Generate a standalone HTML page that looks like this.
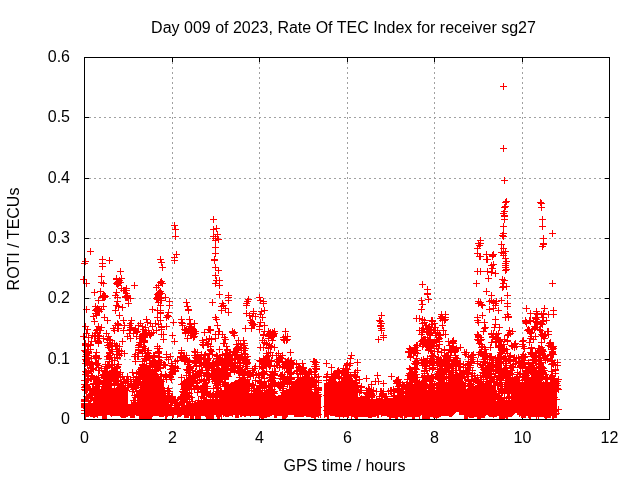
<!DOCTYPE html>
<html><head><meta charset="utf-8"><title>ROTI sg27</title>
<style>html,body{margin:0;padding:0;background:#fff}svg{display:block}text{font-family:"Liberation Sans",sans-serif;font-size:16px;fill:#000}</style>
</head><body>
<svg width="640" height="480" viewBox="0 0 640 480">
<rect width="640" height="480" fill="#fff"/>
<g stroke="#a0a0a0" stroke-width="1" shape-rendering="crispEdges">
<line x1="172.5" y1="62" x2="172.5" y2="415" stroke-dasharray="2 3"/>
<line x1="259.5" y1="62" x2="259.5" y2="415" stroke-dasharray="2 3"/>
<line x1="347.5" y1="62" x2="347.5" y2="415" stroke-dasharray="2 3"/>
<line x1="434.5" y1="62" x2="434.5" y2="415" stroke-dasharray="2 3"/>
<line x1="522.5" y1="62" x2="522.5" y2="415" stroke-dasharray="2 3"/>
<line x1="89" y1="359.5" x2="605" y2="359.5" stroke-dasharray="2 3"/>
<line x1="89" y1="298.5" x2="605" y2="298.5" stroke-dasharray="2 3"/>
<line x1="89" y1="238.5" x2="605" y2="238.5" stroke-dasharray="2 3"/>
<line x1="89" y1="178.5" x2="605" y2="178.5" stroke-dasharray="2 3"/>
<line x1="89" y1="117.5" x2="605" y2="117.5" stroke-dasharray="2 3"/>
</g>
<path d="M84.5 57v5M84.5 420v-5M172.5 57v5M172.5 420v-5M259.5 57v5M259.5 420v-5M347.5 57v5M347.5 420v-5M434.5 57v5M434.5 420v-5M522.5 57v5M522.5 420v-5M609.5 57v5M609.5 420v-5M84 419.5h5M610 419.5h-5M84 359.5h5M610 359.5h-5M84 298.5h5M610 298.5h-5M84 238.5h5M610 238.5h-5M84 178.5h5M610 178.5h-5M84 117.5h5M610 117.5h-5M84 57.5h5M610 57.5h-5" stroke="#000" stroke-width="1" fill="none" shape-rendering="crispEdges"/>
<path d="M84 405V419h1V405zM85 405V419h1V405zM86 404V417h1V404zM87 404V417h1V404zM88 404V417h1V404zM89 404V416h1V404zM90 404V417h1V404zM91 403V417h1V403zM92 403V417h1V403zM93 398V418h1V398zM94 394V418h1V394zM95 389V417h1V389zM96 389V417h1V389zM97 389V418h1V389zM98 389V416h1V389zM99 389V416h1V389zM100 389V416h1V389zM101 389V416h1V389zM102 389V419h1V389zM103 389V419h1V389zM104 389V419h1V389zM105 389V419h1V389zM106 389V419h1V389zM107 389V415h1V389zM108 389V415h1V389zM109 389V415h1V389zM110 389V416h1V389zM111 388V417h1V388zM112 388V416h1V388zM113 388V416h1V388zM114 388V416h1V388zM115 388V416h1V388zM116 388V416h1V388zM117 388V416h1V388zM118 388V416h1V388zM119 388V416h1V388zM120 388V417h1V388zM121 388V418h1V388zM122 388V418h1V388zM123 388V418h1V388zM124 388V418h1V388zM125 388V418h1V388zM126 388V417h1V388zM127 388V417h1V388zM128 405V416h1V405zM129 405V416h1V405zM130 405V418h1V405zM131 405V418h1V405zM132 405V418h1V405zM133 405V418h1V405zM134 405V418h1V405zM135 405V415h1V405zM136 405V416h1V405zM137 399V416h1V399zM138 393V416h1V393zM139 389V419h1V389zM140 386V419h1V386zM141 382V419h1V382zM142 380V419h1V380zM143 379V419h1V379zM144 377V419h1V377zM145 376V419h1V376zM146 374V419h1V374zM147 373V419h1V373zM148 373V419h1V373zM149 372V419h1V372zM150 371V419h1V371zM151 371V419h1V371zM152 370V417h1V370zM153 371V416h1V371zM154 371V416h1V371zM155 372V416h1V372zM156 373V416h1V373zM157 373V416h1V373zM158 374V416h1V374zM159 376V417h1V376zM160 377V417h1V377zM161 379V417h1V379zM162 380V417h1V380zM163 382V417h1V382zM164 387V416h1V387zM165 392V419h1V392zM166 396V419h1V396zM167 399V417h1V399zM168 403V416h1V403zM169 404V416h1V404zM170 405V416h1V405zM171 406V416h1V406zM172 407V418h1V407zM173 408V418h1V408zM174 409V415h1V409zM175 410V415h1V410zM176 411V415h1V411zM177 413V415h1V413zM178 414V415h1V414zM179 416V416h1V416zM180 417V416h1V417zM181 406V416h1V406zM182 406V415h1V406zM183 406V415h1V406zM184 405V418h1V405zM185 405V418h1V405zM186 405V418h1V405zM187 405V418h1V405zM188 404V418h1V404zM189 404V416h1V404zM190 404V419h1V404zM191 404V419h1V404zM192 403V419h1V403zM193 403V419h1V403zM194 402V416h1V402zM195 402V419h1V402zM196 402V419h1V402zM197 401V419h1V401zM198 401V419h1V401zM199 400V419h1V400zM200 400V419h1V400zM201 400V416h1V400zM202 400V416h1V400zM203 400V416h1V400zM204 399V416h1V399zM205 399V417h1V399zM206 399V419h1V399zM207 399V419h1V399zM208 399V419h1V399zM209 399V419h1V399zM210 399V419h1V399zM211 399V419h1V399zM212 399V419h1V399zM213 399V419h1V399zM214 399V415h1V399zM215 399V415h1V399zM216 399V417h1V399zM217 399V419h1V399zM218 399V419h1V399zM219 397V419h1V397zM220 394V417h1V394zM221 392V419h1V392zM222 391V415h1V391zM223 390V417h1V390zM224 389V416h1V389zM225 388V417h1V388zM226 387V417h1V387zM227 386V417h1V386zM228 385V417h1V385zM229 384V416h1V384zM230 383V416h1V383zM231 382V416h1V382zM232 382V417h1V382zM233 382V415h1V382zM234 381V415h1V381zM235 380V418h1V380zM236 380V418h1V380zM237 380V418h1V380zM238 379V418h1V379zM239 378V415h1V378zM240 378V417h1V378zM241 383V417h1V383zM242 386V416h1V386zM243 388V416h1V388zM244 390V417h1V390zM245 393V417h1V393zM246 393V416h1V393zM247 393V416h1V393zM248 393V416h1V393zM249 393V416h1V393zM250 393V417h1V393zM251 393V416h1V393zM252 393V416h1V393zM253 393V416h1V393zM254 393V416h1V393zM255 393V416h1V393zM256 393V416h1V393zM257 393V416h1V393zM258 393V416h1V393zM259 393V418h1V393zM260 393V418h1V393zM261 393V419h1V393zM262 393V419h1V393zM263 393V419h1V393zM264 393V418h1V393zM265 393V418h1V393zM266 396V418h1V396zM267 396V417h1V396zM268 396V417h1V396zM269 396V417h1V396zM270 396V416h1V396zM271 396V416h1V396zM272 396V415h1V396zM273 396V415h1V396zM274 396V418h1V396zM275 396V418h1V396zM276 396V418h1V396zM277 396V416h1V396zM278 396V416h1V396zM279 396V416h1V396zM280 396V416h1V396zM281 396V416h1V396zM282 396V419h1V396zM283 396V419h1V396zM284 396V419h1V396zM285 396V419h1V396zM286 396V418h1V396zM287 396V417h1V396zM288 396V415h1V396zM289 396V415h1V396zM290 391V415h1V391zM291 383V415h1V383zM292 382V415h1V382zM293 381V415h1V381zM294 381V417h1V381zM295 380V417h1V380zM296 379V417h1V379zM297 378V417h1V378zM298 378V417h1V378zM299 377V417h1V377zM300 377V417h1V377zM301 377V417h1V377zM302 376V417h1V376zM303 376V417h1V376zM304 376V416h1V376zM305 377V416h1V377zM306 377V417h1V377zM307 378V417h1V378zM308 378V417h1V378zM309 379V417h1V379zM310 379V417h1V379zM311 391V418h1V391zM312 391V418h1V391zM313 392V418h1V392zM314 392V419h1V392zM315 392V419h1V392zM316 393V417h1V393zM317 393V417h1V393zM318 393V416h1V393zM319 394V416h1V394zM320 394V418h1V394zM324 383V418h1V383zM325 383V417h1V383zM326 383V417h1V383zM327 383V419h1V383zM328 383V419h1V383zM329 383V415h1V383zM330 383V416h1V383zM331 383V416h1V383zM332 383V416h1V383zM333 382V416h1V382zM334 382V416h1V382zM335 382V417h1V382zM336 382V417h1V382zM337 382V417h1V382zM338 382V417h1V382zM339 382V419h1V382zM340 382V417h1V382zM341 380V417h1V380zM342 379V417h1V379zM343 379V418h1V379zM344 379V417h1V379zM345 378V417h1V378zM346 377V417h1V377zM347 377V418h1V377zM348 376V418h1V376zM349 374V416h1V374zM350 373V416h1V373zM351 376V419h1V376zM352 378V417h1V378zM353 381V417h1V381zM354 382V418h1V382zM355 383V419h1V383zM356 385V419h1V385zM357 386V419h1V386zM358 399V417h1V399zM359 399V417h1V399zM360 399V417h1V399zM361 399V417h1V399zM362 399V417h1V399zM363 399V417h1V399zM364 399V417h1V399zM365 399V417h1V399zM366 399V417h1V399zM367 399V417h1V399zM368 399V418h1V399zM369 399V418h1V399zM370 399V418h1V399zM371 399V418h1V399zM372 399V417h1V399zM373 399V417h1V399zM374 399V417h1V399zM375 399V417h1V399zM376 399V416h1V399zM377 399V418h1V399zM378 399V418h1V399zM379 399V415h1V399zM380 399V415h1V399zM381 399V417h1V399zM382 399V416h1V399zM383 399V416h1V399zM384 399V416h1V399zM385 399V416h1V399zM386 398V416h1V398zM387 398V417h1V398zM388 398V417h1V398zM389 398V419h1V398zM390 398V419h1V398zM391 398V418h1V398zM392 398V418h1V398zM393 397V418h1V397zM394 397V418h1V397zM395 397V419h1V397zM396 397V419h1V397zM397 397V419h1V397zM398 397V417h1V397zM399 397V417h1V397zM400 396V418h1V396zM401 395V418h1V395zM402 395V419h1V395zM403 395V416h1V395zM404 395V419h1V395zM405 395V418h1V395zM406 395V418h1V395zM407 395V417h1V395zM408 395V417h1V395zM409 385V417h1V385zM410 385V417h1V385zM411 385V417h1V385zM412 385V419h1V385zM413 385V419h1V385zM414 385V419h1V385zM415 385V417h1V385zM416 390V417h1V390zM417 390V417h1V390zM418 390V417h1V390zM419 390V419h1V390zM420 390V416h1V390zM421 390V415h1V390zM422 390V419h1V390zM423 390V419h1V390zM424 390V419h1V390zM425 390V419h1V390zM426 390V419h1V390zM427 390V419h1V390zM428 390V419h1V390zM429 390V419h1V390zM430 390V417h1V390zM431 390V417h1V390zM432 390V417h1V390zM433 390V418h1V390zM434 390V418h1V390zM435 390V418h1V390zM436 382V419h1V382zM437 382V418h1V382zM438 382V418h1V382zM439 382V417h1V382zM440 382V417h1V382zM441 382V416h1V382zM442 382V416h1V382zM443 382V416h1V382zM444 382V416h1V382zM445 382V416h1V382zM446 382V416h1V382zM447 382V416h1V382zM448 382V416h1V382zM449 382V417h1V382zM450 382V417h1V382zM451 382V417h1V382zM452 382V416h1V382zM453 382V415h1V382zM454 382V414h1V382zM455 382V413h1V382zM456 382V412h1V382zM457 382V412h1V382zM458 382V412h1V382zM459 382V415h1V382zM460 382V415h1V382zM461 382V415h1V382zM462 382V415h1V382zM463 382V415h1V382zM464 382V419h1V382zM465 382V419h1V382zM466 390V419h1V390zM467 390V419h1V390zM468 390V417h1V390zM469 390V418h1V390zM470 390V418h1V390zM471 390V418h1V390zM472 390V418h1V390zM473 390V418h1V390zM474 390V417h1V390zM475 390V417h1V390zM476 385V417h1V385zM477 385V419h1V385zM478 385V419h1V385zM479 385V419h1V385zM480 385V419h1V385zM481 385V418h1V385zM482 385V418h1V385zM483 385V418h1V385zM484 385V418h1V385zM485 385V416h1V385zM486 385V415h1V385zM487 385V415h1V385zM488 385V416h1V385zM489 385V417h1V385zM490 385V417h1V385zM491 385V417h1V385zM492 385V417h1V385zM493 385V418h1V385zM494 385V417h1V385zM495 385V417h1V385zM496 402V417h1V402zM497 402V416h1V402zM498 402V416h1V402zM499 402V419h1V402zM500 402V419h1V402zM501 402V419h1V402zM502 402V419h1V402zM503 402V419h1V402zM504 402V419h1V402zM505 402V418h1V402zM506 402V419h1V402zM507 402V419h1V402zM508 402V417h1V402zM509 402V417h1V402zM510 402V417h1V402zM511 382V417h1V382zM512 382V416h1V382zM513 382V415h1V382zM514 382V414h1V382zM515 382V413h1V382zM516 382V413h1V382zM517 382V415h1V382zM518 382V415h1V382zM519 382V417h1V382zM520 382V416h1V382zM521 382V418h1V382zM522 382V418h1V382zM523 382V418h1V382zM524 382V418h1V382zM525 382V418h1V382zM526 382V416h1V382zM527 382V416h1V382zM528 382V418h1V382zM529 382V419h1V382zM530 382V419h1V382zM531 382V417h1V382zM532 382V417h1V382zM533 382V417h1V382zM534 382V417h1V382zM535 382V417h1V382zM536 382V419h1V382zM537 382V417h1V382zM538 382V419h1V382zM539 382V417h1V382zM540 382V417h1V382zM541 382V417h1V382zM542 382V417h1V382zM543 382V417h1V382zM544 382V418h1V382zM545 382V419h1V382zM546 382V419h1V382zM547 382V418h1V382zM548 382V418h1V382zM549 382V418h1V382zM550 382V418h1V382zM551 382V415h1V382zM552 382V415h1V382zM553 382V416h1V382zM554 382V418h1V382zM555 382V418h1V382zM556 382V418h1V382z" fill="#f00" shape-rendering="crispEdges"/>
<path d="M80 279.5h7M83.5 276v7M80 336.5h7M83.5 333v7M81 263.5h7M84.5 260v7M81 350.5h7M84.5 347v7M81 380.5h7M84.5 377v7M81 384.5h7M84.5 381v7M81 387.5h7M84.5 384v7M81 389.5h7M84.5 386v7M81 399.5h7M84.5 396v7M81 400.5h7M84.5 397v7M81 401.5h7M84.5 398v7M81 403.5h7M84.5 400v7M81 404.5h7M84.5 401v7M81 405.5h7M84.5 402v7M81 406.5h7M84.5 403v7M81 407.5h7M84.5 404v7M81 410.5h7M84.5 407v7M81 413.5h7M84.5 410v7M82 261.5h7M85.5 258v7M82 326.5h7M85.5 323v7M82 343.5h7M85.5 340v7M82 344.5h7M85.5 341v7M82 345.5h7M85.5 342v7M82 350.5h7M85.5 347v7M82 351.5h7M85.5 348v7M82 356.5h7M85.5 353v7M82 359.5h7M85.5 356v7M82 363.5h7M85.5 360v7M82 371.5h7M85.5 368v7M82 374.5h7M85.5 371v7M82 384.5h7M85.5 381v7M82 386.5h7M85.5 383v7M82 390.5h7M85.5 387v7M83 283.5h7M86.5 280v7M83 309.5h7M86.5 306v7M83 333.5h7M86.5 330v7M83 352.5h7M86.5 349v7M83 354.5h7M86.5 351v7M83 360.5h7M86.5 357v7M83 361.5h7M86.5 358v7M83 372.5h7M86.5 369v7M83 384.5h7M86.5 381v7M83 385.5h7M86.5 382v7M83 387.5h7M86.5 384v7M83 389.5h7M86.5 386v7M83 390.5h7M86.5 387v7M83 396.5h7M86.5 393v7M83 408.5h7M86.5 405v7M84 329.5h7M87.5 326v7M84 346.5h7M87.5 343v7M84 353.5h7M87.5 350v7M84 355.5h7M87.5 352v7M84 362.5h7M87.5 359v7M84 364.5h7M87.5 361v7M84 365.5h7M87.5 362v7M84 376.5h7M87.5 373v7M84 379.5h7M87.5 376v7M84 380.5h7M87.5 377v7M84 386.5h7M87.5 383v7M84 387.5h7M87.5 384v7M84 388.5h7M87.5 385v7M84 389.5h7M87.5 386v7M85 337.5h7M88.5 334v7M85 345.5h7M88.5 342v7M85 351.5h7M88.5 348v7M85 352.5h7M88.5 349v7M85 353.5h7M88.5 350v7M85 357.5h7M88.5 354v7M85 362.5h7M88.5 359v7M85 370.5h7M88.5 367v7M85 371.5h7M88.5 368v7M85 373.5h7M88.5 370v7M85 378.5h7M88.5 375v7M85 379.5h7M88.5 376v7M85 396.5h7M88.5 393v7M85 397.5h7M88.5 394v7M85 398.5h7M88.5 395v7M85 401.5h7M88.5 398v7M86 361.5h7M89.5 358v7M86 363.5h7M89.5 360v7M86 364.5h7M89.5 361v7M86 389.5h7M89.5 386v7M86 394.5h7M89.5 391v7M86 395.5h7M89.5 392v7M86 403.5h7M89.5 400v7M87 251.5h7M90.5 248v7M87 344.5h7M90.5 341v7M87 345.5h7M90.5 342v7M87 349.5h7M90.5 346v7M87 364.5h7M90.5 361v7M87 370.5h7M90.5 367v7M87 378.5h7M90.5 375v7M87 389.5h7M90.5 386v7M87 400.5h7M90.5 397v7M88 341.5h7M91.5 338v7M88 358.5h7M91.5 355v7M88 363.5h7M91.5 360v7M88 364.5h7M91.5 361v7M88 368.5h7M91.5 365v7M88 375.5h7M91.5 372v7M88 378.5h7M91.5 375v7M88 393.5h7M91.5 390v7M88 395.5h7M91.5 392v7M88 397.5h7M91.5 394v7M89 335.5h7M92.5 332v7M89 368.5h7M92.5 365v7M89 376.5h7M92.5 373v7M89 388.5h7M92.5 385v7M89 393.5h7M92.5 390v7M89 394.5h7M92.5 391v7M89 397.5h7M92.5 394v7M90 316.5h7M93.5 313v7M90 368.5h7M93.5 365v7M90 369.5h7M93.5 366v7M90 378.5h7M93.5 375v7M90 383.5h7M93.5 380v7M90 384.5h7M93.5 381v7M90 390.5h7M93.5 387v7M90 391.5h7M93.5 388v7M90 392.5h7M93.5 389v7M91 292.5h7M94.5 289v7M91 321.5h7M94.5 318v7M91 336.5h7M94.5 333v7M91 379.5h7M94.5 376v7M91 392.5h7M94.5 389v7M91 393.5h7M94.5 390v7M92 306.5h7M95.5 303v7M92 310.5h7M95.5 307v7M92 313.5h7M95.5 310v7M92 333.5h7M95.5 330v7M92 336.5h7M95.5 333v7M92 356.5h7M95.5 353v7M92 362.5h7M95.5 359v7M92 383.5h7M95.5 380v7M92 389.5h7M95.5 386v7M93 309.5h7M96.5 306v7M93 310.5h7M96.5 307v7M93 315.5h7M96.5 312v7M93 330.5h7M96.5 327v7M93 352.5h7M96.5 349v7M93 355.5h7M96.5 352v7M93 356.5h7M96.5 353v7M93 357.5h7M96.5 354v7M93 364.5h7M96.5 361v7M93 378.5h7M96.5 375v7M93 379.5h7M96.5 376v7M93 387.5h7M96.5 384v7M94 308.5h7M97.5 305v7M94 310.5h7M97.5 307v7M94 311.5h7M97.5 308v7M94 329.5h7M97.5 326v7M94 332.5h7M97.5 329v7M94 338.5h7M97.5 335v7M94 340.5h7M97.5 337v7M94 363.5h7M97.5 360v7M94 379.5h7M97.5 376v7M94 382.5h7M97.5 379v7M94 386.5h7M97.5 383v7M95 300.5h7M98.5 297v7M95 310.5h7M98.5 307v7M95 311.5h7M98.5 308v7M95 326.5h7M98.5 323v7M95 335.5h7M98.5 332v7M95 341.5h7M98.5 338v7M95 342.5h7M98.5 339v7M95 343.5h7M98.5 340v7M95 358.5h7M98.5 355v7M95 365.5h7M98.5 362v7M95 367.5h7M98.5 364v7M95 370.5h7M98.5 367v7M95 377.5h7M98.5 374v7M95 381.5h7M98.5 378v7M95 386.5h7M98.5 383v7M96 309.5h7M99.5 306v7M96 311.5h7M99.5 308v7M96 330.5h7M99.5 327v7M96 336.5h7M99.5 333v7M96 370.5h7M99.5 367v7M96 382.5h7M99.5 379v7M96 389.5h7M99.5 386v7M97 291.5h7M100.5 288v7M97 330.5h7M100.5 327v7M98 276.5h7M101.5 273v7M98 282.5h7M101.5 279v7M98 309.5h7M101.5 306v7M98 327.5h7M101.5 324v7M98 368.5h7M101.5 365v7M99 259.5h7M102.5 256v7M99 263.5h7M102.5 260v7M99 266.5h7M102.5 263v7M99 296.5h7M102.5 293v7M99 297.5h7M102.5 294v7M99 375.5h7M102.5 372v7M99 384.5h7M102.5 381v7M100 283.5h7M103.5 280v7M100 295.5h7M103.5 292v7M100 297.5h7M103.5 294v7M100 306.5h7M103.5 303v7M100 338.5h7M103.5 335v7M100 374.5h7M103.5 371v7M100 380.5h7M103.5 377v7M100 382.5h7M103.5 379v7M100 383.5h7M103.5 380v7M100 384.5h7M103.5 381v7M101 295.5h7M104.5 292v7M101 297.5h7M104.5 294v7M101 317.5h7M104.5 314v7M101 370.5h7M104.5 367v7M101 371.5h7M104.5 368v7M101 376.5h7M104.5 373v7M101 378.5h7M104.5 375v7M101 383.5h7M104.5 380v7M101 387.5h7M104.5 384v7M101 388.5h7M104.5 385v7M102 296.5h7M105.5 293v7M102 364.5h7M105.5 361v7M102 366.5h7M105.5 363v7M102 368.5h7M105.5 365v7M102 373.5h7M105.5 370v7M102 374.5h7M105.5 371v7M102 375.5h7M105.5 372v7M102 380.5h7M105.5 377v7M102 385.5h7M105.5 382v7M102 386.5h7M105.5 383v7M102 388.5h7M105.5 385v7M102 392.5h7M105.5 389v7M103 333.5h7M106.5 330v7M103 368.5h7M106.5 365v7M103 374.5h7M106.5 371v7M103 377.5h7M106.5 374v7M103 381.5h7M106.5 378v7M103 384.5h7M106.5 381v7M103 385.5h7M106.5 382v7M103 386.5h7M106.5 383v7M104 320.5h7M107.5 317v7M104 339.5h7M107.5 336v7M104 342.5h7M107.5 339v7M104 345.5h7M107.5 342v7M104 356.5h7M107.5 353v7M104 364.5h7M107.5 361v7M104 366.5h7M107.5 363v7M104 367.5h7M107.5 364v7M104 371.5h7M107.5 368v7M104 372.5h7M107.5 369v7M104 377.5h7M107.5 374v7M104 378.5h7M107.5 375v7M104 380.5h7M107.5 377v7M104 382.5h7M107.5 379v7M104 383.5h7M107.5 380v7M104 388.5h7M107.5 385v7M104 389.5h7M107.5 386v7M104 394.5h7M107.5 391v7M105 336.5h7M108.5 333v7M105 347.5h7M108.5 344v7M105 356.5h7M108.5 353v7M105 365.5h7M108.5 362v7M105 375.5h7M108.5 372v7M105 378.5h7M108.5 375v7M105 381.5h7M108.5 378v7M105 383.5h7M108.5 380v7M105 384.5h7M108.5 381v7M105 385.5h7M108.5 382v7M105 386.5h7M108.5 383v7M105 387.5h7M108.5 384v7M105 390.5h7M108.5 387v7M106 260.5h7M109.5 257v7M106 339.5h7M109.5 336v7M106 340.5h7M109.5 337v7M106 342.5h7M109.5 339v7M106 344.5h7M109.5 341v7M106 345.5h7M109.5 342v7M106 347.5h7M109.5 344v7M106 352.5h7M109.5 349v7M106 353.5h7M109.5 350v7M106 355.5h7M109.5 352v7M106 357.5h7M109.5 354v7M106 358.5h7M109.5 355v7M106 359.5h7M109.5 356v7M106 361.5h7M109.5 358v7M106 364.5h7M109.5 361v7M106 375.5h7M109.5 372v7M106 377.5h7M109.5 374v7M106 378.5h7M109.5 375v7M106 379.5h7M109.5 376v7M106 388.5h7M109.5 385v7M106 389.5h7M109.5 386v7M107 340.5h7M110.5 337v7M107 343.5h7M110.5 340v7M107 353.5h7M110.5 350v7M107 377.5h7M110.5 374v7M107 384.5h7M110.5 381v7M107 385.5h7M110.5 382v7M108 345.5h7M111.5 342v7M108 346.5h7M111.5 343v7M108 349.5h7M111.5 346v7M108 364.5h7M111.5 361v7M108 365.5h7M111.5 362v7M108 371.5h7M111.5 368v7M108 374.5h7M111.5 371v7M108 383.5h7M111.5 380v7M108 393.5h7M111.5 390v7M109 343.5h7M112.5 340v7M109 351.5h7M112.5 348v7M109 364.5h7M112.5 361v7M109 367.5h7M112.5 364v7M109 370.5h7M112.5 367v7M110 328.5h7M113.5 325v7M110 372.5h7M113.5 369v7M110 373.5h7M113.5 370v7M110 375.5h7M113.5 372v7M110 377.5h7M113.5 374v7M110 379.5h7M113.5 376v7M111 330.5h7M114.5 327v7M111 343.5h7M114.5 340v7M111 357.5h7M114.5 354v7M111 360.5h7M114.5 357v7M111 369.5h7M114.5 366v7M111 373.5h7M114.5 370v7M111 376.5h7M114.5 373v7M111 377.5h7M114.5 374v7M111 378.5h7M114.5 375v7M111 380.5h7M114.5 377v7M111 385.5h7M114.5 382v7M111 388.5h7M114.5 385v7M111 389.5h7M114.5 386v7M112 295.5h7M115.5 292v7M112 310.5h7M115.5 307v7M112 325.5h7M115.5 322v7M112 346.5h7M115.5 343v7M112 371.5h7M115.5 368v7M112 373.5h7M115.5 370v7M112 374.5h7M115.5 371v7M112 376.5h7M115.5 373v7M112 378.5h7M115.5 375v7M112 381.5h7M115.5 378v7M113 278.5h7M116.5 275v7M113 279.5h7M116.5 276v7M113 283.5h7M116.5 280v7M113 292.5h7M116.5 289v7M113 305.5h7M116.5 302v7M113 345.5h7M116.5 342v7M113 346.5h7M116.5 343v7M113 354.5h7M116.5 351v7M113 368.5h7M116.5 365v7M113 371.5h7M116.5 368v7M113 373.5h7M116.5 370v7M113 380.5h7M116.5 377v7M113 381.5h7M116.5 378v7M114 282.5h7M117.5 279v7M114 284.5h7M117.5 281v7M114 297.5h7M117.5 294v7M114 301.5h7M117.5 298v7M114 323.5h7M117.5 320v7M114 328.5h7M117.5 325v7M114 346.5h7M117.5 343v7M114 354.5h7M117.5 351v7M114 357.5h7M117.5 354v7M114 358.5h7M117.5 355v7M114 366.5h7M117.5 363v7M114 367.5h7M117.5 364v7M114 373.5h7M117.5 370v7M114 374.5h7M117.5 371v7M114 375.5h7M117.5 372v7M114 380.5h7M117.5 377v7M114 384.5h7M117.5 381v7M114 385.5h7M117.5 382v7M115 281.5h7M118.5 278v7M115 283.5h7M118.5 280v7M115 306.5h7M118.5 303v7M115 324.5h7M118.5 321v7M115 325.5h7M118.5 322v7M115 328.5h7M118.5 325v7M115 351.5h7M118.5 348v7M115 364.5h7M118.5 361v7M115 376.5h7M118.5 373v7M115 377.5h7M118.5 374v7M115 381.5h7M118.5 378v7M116 280.5h7M119.5 277v7M116 282.5h7M119.5 279v7M116 315.5h7M119.5 312v7M116 346.5h7M119.5 343v7M116 350.5h7M119.5 347v7M116 353.5h7M119.5 350v7M116 355.5h7M119.5 352v7M116 374.5h7M119.5 371v7M116 387.5h7M119.5 384v7M117 271.5h7M120.5 268v7M117 282.5h7M120.5 279v7M117 372.5h7M120.5 369v7M117 381.5h7M120.5 378v7M117 384.5h7M120.5 381v7M117 385.5h7M120.5 382v7M117 386.5h7M120.5 383v7M117 387.5h7M120.5 384v7M118 278.5h7M121.5 275v7M118 288.5h7M121.5 285v7M118 351.5h7M121.5 348v7M118 353.5h7M121.5 350v7M118 383.5h7M121.5 380v7M119 307.5h7M122.5 304v7M119 341.5h7M122.5 338v7M119 376.5h7M122.5 373v7M119 388.5h7M122.5 385v7M120 290.5h7M123.5 287v7M120 320.5h7M123.5 317v7M120 330.5h7M123.5 327v7M120 379.5h7M123.5 376v7M120 388.5h7M123.5 385v7M120 393.5h7M123.5 390v7M121 290.5h7M124.5 287v7M121 325.5h7M124.5 322v7M121 353.5h7M124.5 350v7M121 379.5h7M124.5 376v7M121 388.5h7M124.5 385v7M121 390.5h7M124.5 387v7M122 290.5h7M125.5 287v7M122 296.5h7M125.5 293v7M122 297.5h7M125.5 294v7M122 382.5h7M125.5 379v7M122 387.5h7M125.5 384v7M122 389.5h7M125.5 386v7M123 288.5h7M126.5 285v7M123 290.5h7M126.5 287v7M123 293.5h7M126.5 290v7M123 296.5h7M126.5 293v7M123 297.5h7M126.5 294v7M123 379.5h7M126.5 376v7M123 390.5h7M126.5 387v7M124 295.5h7M127.5 292v7M124 297.5h7M127.5 294v7M124 336.5h7M127.5 333v7M124 376.5h7M127.5 373v7M124 381.5h7M127.5 378v7M124 383.5h7M127.5 380v7M125 298.5h7M128.5 295v7M125 303.5h7M128.5 300v7M125 379.5h7M128.5 376v7M125 385.5h7M128.5 382v7M126 325.5h7M129.5 322v7M126 330.5h7M129.5 327v7M126 333.5h7M129.5 330v7M127 298.5h7M130.5 295v7M127 323.5h7M130.5 320v7M127 327.5h7M130.5 324v7M127 329.5h7M130.5 326v7M127 338.5h7M130.5 335v7M127 379.5h7M130.5 376v7M127 384.5h7M130.5 381v7M128 320.5h7M131.5 317v7M128 327.5h7M131.5 324v7M128 383.5h7M131.5 380v7M128 386.5h7M131.5 383v7M128 404.5h7M131.5 401v7M128 408.5h7M131.5 405v7M129 372.5h7M132.5 369v7M129 386.5h7M132.5 383v7M129 387.5h7M132.5 384v7M129 391.5h7M132.5 388v7M129 405.5h7M132.5 402v7M129 406.5h7M132.5 403v7M130 330.5h7M133.5 327v7M130 333.5h7M133.5 330v7M130 377.5h7M133.5 374v7M130 384.5h7M133.5 381v7M130 385.5h7M133.5 382v7M130 387.5h7M133.5 384v7M130 389.5h7M133.5 386v7M130 400.5h7M133.5 397v7M130 405.5h7M133.5 402v7M130 407.5h7M133.5 404v7M130 411.5h7M133.5 408v7M131 285.5h7M134.5 282v7M131 356.5h7M134.5 353v7M131 385.5h7M134.5 382v7M131 395.5h7M134.5 392v7M131 400.5h7M134.5 397v7M131 403.5h7M134.5 400v7M131 404.5h7M134.5 401v7M132 328.5h7M135.5 325v7M132 329.5h7M135.5 326v7M132 330.5h7M135.5 327v7M132 354.5h7M135.5 351v7M132 356.5h7M135.5 353v7M132 361.5h7M135.5 358v7M132 379.5h7M135.5 376v7M132 381.5h7M135.5 378v7M132 388.5h7M135.5 385v7M132 397.5h7M135.5 394v7M132 400.5h7M135.5 397v7M132 402.5h7M135.5 399v7M132 407.5h7M135.5 404v7M132 408.5h7M135.5 405v7M133 332.5h7M136.5 329v7M133 336.5h7M136.5 333v7M133 373.5h7M136.5 370v7M133 376.5h7M136.5 373v7M133 383.5h7M136.5 380v7M133 384.5h7M136.5 381v7M133 385.5h7M136.5 382v7M133 387.5h7M136.5 384v7M133 391.5h7M136.5 388v7M134 331.5h7M137.5 328v7M134 356.5h7M137.5 353v7M134 380.5h7M137.5 377v7M134 385.5h7M137.5 382v7M134 396.5h7M137.5 393v7M135 325.5h7M138.5 322v7M135 345.5h7M138.5 342v7M135 347.5h7M138.5 344v7M135 349.5h7M138.5 346v7M135 350.5h7M138.5 347v7M135 352.5h7M138.5 349v7M135 356.5h7M138.5 353v7M135 372.5h7M138.5 369v7M135 373.5h7M138.5 370v7M135 377.5h7M138.5 374v7M135 379.5h7M138.5 376v7M135 383.5h7M138.5 380v7M135 384.5h7M138.5 381v7M136 342.5h7M139.5 339v7M136 344.5h7M139.5 341v7M136 374.5h7M139.5 371v7M136 379.5h7M139.5 376v7M136 381.5h7M139.5 378v7M136 392.5h7M139.5 389v7M137 323.5h7M140.5 320v7M137 338.5h7M140.5 335v7M137 342.5h7M140.5 339v7M137 369.5h7M140.5 366v7M137 371.5h7M140.5 368v7M137 373.5h7M140.5 370v7M137 379.5h7M140.5 376v7M137 381.5h7M140.5 378v7M137 390.5h7M140.5 387v7M138 344.5h7M141.5 341v7M138 367.5h7M141.5 364v7M138 368.5h7M141.5 365v7M138 369.5h7M141.5 366v7M138 370.5h7M141.5 367v7M138 372.5h7M141.5 369v7M138 374.5h7M141.5 371v7M138 387.5h7M141.5 384v7M139 326.5h7M142.5 323v7M139 334.5h7M142.5 331v7M139 335.5h7M142.5 332v7M139 337.5h7M142.5 334v7M139 339.5h7M142.5 336v7M139 350.5h7M142.5 347v7M139 351.5h7M142.5 348v7M139 353.5h7M142.5 350v7M139 361.5h7M142.5 358v7M139 364.5h7M142.5 361v7M139 365.5h7M142.5 362v7M139 372.5h7M142.5 369v7M139 373.5h7M142.5 370v7M139 374.5h7M142.5 371v7M139 375.5h7M142.5 372v7M139 376.5h7M142.5 373v7M139 377.5h7M142.5 374v7M139 378.5h7M142.5 375v7M140 329.5h7M143.5 326v7M140 333.5h7M143.5 330v7M140 336.5h7M143.5 333v7M140 346.5h7M143.5 343v7M140 366.5h7M143.5 363v7M140 370.5h7M143.5 367v7M140 371.5h7M143.5 368v7M140 372.5h7M143.5 369v7M140 374.5h7M143.5 371v7M141 333.5h7M144.5 330v7M141 335.5h7M144.5 332v7M141 336.5h7M144.5 333v7M141 337.5h7M144.5 334v7M141 340.5h7M144.5 337v7M141 341.5h7M144.5 338v7M141 342.5h7M144.5 339v7M141 350.5h7M144.5 347v7M141 358.5h7M144.5 355v7M141 365.5h7M144.5 362v7M141 366.5h7M144.5 363v7M141 368.5h7M144.5 365v7M141 369.5h7M144.5 366v7M141 371.5h7M144.5 368v7M142 327.5h7M145.5 324v7M142 330.5h7M145.5 327v7M142 335.5h7M145.5 332v7M142 348.5h7M145.5 345v7M142 353.5h7M145.5 350v7M142 367.5h7M145.5 364v7M142 371.5h7M145.5 368v7M143 319.5h7M146.5 316v7M143 332.5h7M146.5 329v7M143 356.5h7M146.5 353v7M143 359.5h7M146.5 356v7M143 360.5h7M146.5 357v7M143 366.5h7M146.5 363v7M143 368.5h7M146.5 365v7M143 370.5h7M146.5 367v7M143 372.5h7M146.5 369v7M143 374.5h7M146.5 371v7M143 378.5h7M146.5 375v7M144 322.5h7M147.5 319v7M144 352.5h7M147.5 349v7M144 356.5h7M147.5 353v7M144 369.5h7M147.5 366v7M144 373.5h7M147.5 370v7M145 330.5h7M148.5 327v7M145 350.5h7M148.5 347v7M145 353.5h7M148.5 350v7M145 357.5h7M148.5 354v7M145 372.5h7M148.5 369v7M145 378.5h7M148.5 375v7M146 334.5h7M149.5 331v7M146 355.5h7M149.5 352v7M146 357.5h7M149.5 354v7M146 358.5h7M149.5 355v7M146 360.5h7M149.5 357v7M146 363.5h7M149.5 360v7M146 365.5h7M149.5 362v7M146 369.5h7M149.5 366v7M146 372.5h7M149.5 369v7M147 323.5h7M150.5 320v7M147 335.5h7M150.5 332v7M147 365.5h7M150.5 362v7M147 366.5h7M150.5 363v7M147 367.5h7M150.5 364v7M147 369.5h7M150.5 366v7M148 333.5h7M151.5 330v7M149 309.5h7M152.5 306v7M149 326.5h7M152.5 323v7M149 362.5h7M152.5 359v7M149 364.5h7M152.5 361v7M149 367.5h7M152.5 364v7M150 332.5h7M153.5 329v7M150 355.5h7M153.5 352v7M150 356.5h7M153.5 353v7M150 361.5h7M153.5 358v7M150 364.5h7M153.5 361v7M151 355.5h7M154.5 352v7M151 357.5h7M154.5 354v7M151 366.5h7M154.5 363v7M151 369.5h7M154.5 366v7M151 370.5h7M154.5 367v7M152 323.5h7M155.5 320v7M152 362.5h7M155.5 359v7M152 367.5h7M155.5 364v7M152 371.5h7M155.5 368v7M152 377.5h7M155.5 374v7M153 287.5h7M156.5 284v7M153 298.5h7M156.5 295v7M153 330.5h7M156.5 327v7M153 364.5h7M156.5 361v7M153 365.5h7M156.5 362v7M153 374.5h7M156.5 371v7M154 294.5h7M157.5 291v7M154 297.5h7M157.5 294v7M154 299.5h7M157.5 296v7M154 310.5h7M157.5 307v7M154 317.5h7M157.5 314v7M154 346.5h7M157.5 343v7M154 348.5h7M157.5 345v7M154 364.5h7M157.5 361v7M155 285.5h7M158.5 282v7M155 293.5h7M158.5 290v7M155 295.5h7M158.5 292v7M155 296.5h7M158.5 293v7M155 298.5h7M158.5 295v7M155 302.5h7M158.5 299v7M155 324.5h7M158.5 321v7M155 351.5h7M158.5 348v7M155 352.5h7M158.5 349v7M155 353.5h7M158.5 350v7M155 356.5h7M158.5 353v7M155 360.5h7M158.5 357v7M155 363.5h7M158.5 360v7M155 367.5h7M158.5 364v7M156 292.5h7M159.5 289v7M156 294.5h7M159.5 291v7M156 348.5h7M159.5 345v7M156 357.5h7M159.5 354v7M156 360.5h7M159.5 357v7M156 367.5h7M159.5 364v7M157 259.5h7M160.5 256v7M157 282.5h7M160.5 279v7M157 291.5h7M160.5 288v7M157 298.5h7M160.5 295v7M157 305.5h7M160.5 302v7M157 310.5h7M160.5 307v7M157 312.5h7M160.5 309v7M157 313.5h7M160.5 310v7M157 320.5h7M160.5 317v7M157 362.5h7M160.5 359v7M157 368.5h7M160.5 365v7M157 376.5h7M160.5 373v7M158 262.5h7M161.5 259v7M158 281.5h7M161.5 278v7M158 293.5h7M161.5 290v7M158 300.5h7M161.5 297v7M158 326.5h7M161.5 323v7M158 327.5h7M161.5 324v7M158 329.5h7M161.5 326v7M158 334.5h7M161.5 331v7M158 362.5h7M161.5 359v7M158 374.5h7M161.5 371v7M158 381.5h7M161.5 378v7M159 267.5h7M162.5 264v7M159 283.5h7M162.5 280v7M160 334.5h7M163.5 331v7M160 339.5h7M163.5 336v7M160 364.5h7M163.5 361v7M160 379.5h7M163.5 376v7M161 364.5h7M164.5 361v7M162 297.5h7M165.5 294v7M162 365.5h7M165.5 362v7M162 374.5h7M165.5 371v7M162 375.5h7M165.5 372v7M163 317.5h7M166.5 314v7M163 326.5h7M166.5 323v7M163 354.5h7M166.5 351v7M163 357.5h7M166.5 354v7M163 376.5h7M166.5 373v7M163 377.5h7M166.5 374v7M163 379.5h7M166.5 376v7M164 315.5h7M167.5 312v7M164 390.5h7M167.5 387v7M164 396.5h7M167.5 393v7M164 397.5h7M167.5 394v7M165 312.5h7M168.5 309v7M165 316.5h7M168.5 313v7M165 359.5h7M168.5 356v7M165 388.5h7M168.5 385v7M165 391.5h7M168.5 388v7M165 393.5h7M168.5 390v7M165 400.5h7M168.5 397v7M166 301.5h7M169.5 298v7M166 305.5h7M169.5 302v7M166 374.5h7M169.5 371v7M166 375.5h7M169.5 372v7M166 391.5h7M169.5 388v7M166 393.5h7M169.5 390v7M166 395.5h7M169.5 392v7M166 398.5h7M169.5 395v7M167 356.5h7M170.5 353v7M167 369.5h7M170.5 366v7M167 376.5h7M170.5 373v7M167 377.5h7M170.5 374v7M167 402.5h7M170.5 399v7M167 407.5h7M170.5 404v7M167 408.5h7M170.5 405v7M168 363.5h7M171.5 360v7M168 365.5h7M171.5 362v7M168 372.5h7M171.5 369v7M168 374.5h7M171.5 371v7M168 379.5h7M171.5 376v7M168 397.5h7M171.5 394v7M168 399.5h7M171.5 396v7M168 401.5h7M171.5 398v7M168 402.5h7M171.5 399v7M168 410.5h7M171.5 407v7M169 335.5h7M172.5 332v7M169 366.5h7M172.5 363v7M169 368.5h7M172.5 365v7M169 373.5h7M172.5 370v7M169 396.5h7M172.5 393v7M169 398.5h7M172.5 395v7M169 399.5h7M172.5 396v7M169 401.5h7M172.5 398v7M170 322.5h7M173.5 319v7M170 368.5h7M173.5 365v7M170 371.5h7M173.5 368v7M171 225.5h7M174.5 222v7M171 257.5h7M174.5 254v7M171 260.5h7M174.5 257v7M171 341.5h7M174.5 338v7M171 370.5h7M174.5 367v7M171 403.5h7M174.5 400v7M171 407.5h7M174.5 404v7M171 409.5h7M174.5 406v7M171 411.5h7M174.5 408v7M172 229.5h7M175.5 226v7M172 236.5h7M175.5 233v7M172 361.5h7M175.5 358v7M172 366.5h7M175.5 363v7M172 367.5h7M175.5 364v7M172 370.5h7M175.5 367v7M172 371.5h7M175.5 368v7M172 400.5h7M175.5 397v7M172 403.5h7M175.5 400v7M172 405.5h7M175.5 402v7M172 407.5h7M175.5 404v7M173 254.5h7M176.5 251v7M173 402.5h7M176.5 399v7M173 403.5h7M176.5 400v7M173 405.5h7M176.5 402v7M173 408.5h7M176.5 405v7M174 360.5h7M177.5 357v7M174 368.5h7M177.5 365v7M174 402.5h7M177.5 399v7M174 409.5h7M177.5 406v7M174 414.5h7M177.5 411v7M175 407.5h7M178.5 404v7M175 408.5h7M178.5 405v7M175 409.5h7M178.5 406v7M175 413.5h7M178.5 410v7M176 404.5h7M179.5 401v7M176 405.5h7M179.5 402v7M176 410.5h7M179.5 407v7M176 413.5h7M179.5 410v7M177 356.5h7M180.5 353v7M177 397.5h7M180.5 394v7M177 398.5h7M180.5 395v7M177 402.5h7M180.5 399v7M177 412.5h7M180.5 409v7M177 413.5h7M180.5 410v7M178 319.5h7M181.5 316v7M178 322.5h7M181.5 319v7M178 350.5h7M181.5 347v7M178 352.5h7M181.5 349v7M178 353.5h7M181.5 350v7M178 357.5h7M181.5 354v7M178 377.5h7M181.5 374v7M178 384.5h7M181.5 381v7M178 396.5h7M181.5 393v7M178 398.5h7M181.5 395v7M178 399.5h7M181.5 396v7M178 402.5h7M181.5 399v7M179 323.5h7M182.5 320v7M179 325.5h7M182.5 322v7M179 358.5h7M182.5 355v7M179 391.5h7M182.5 388v7M179 398.5h7M182.5 395v7M179 399.5h7M182.5 396v7M179 402.5h7M182.5 399v7M180 357.5h7M183.5 354v7M180 358.5h7M183.5 355v7M180 383.5h7M183.5 380v7M180 384.5h7M183.5 381v7M180 389.5h7M183.5 386v7M180 392.5h7M183.5 389v7M180 394.5h7M183.5 391v7M180 395.5h7M183.5 392v7M180 396.5h7M183.5 393v7M180 399.5h7M183.5 396v7M180 402.5h7M183.5 399v7M181 329.5h7M184.5 326v7M181 357.5h7M184.5 354v7M181 358.5h7M184.5 355v7M181 359.5h7M184.5 356v7M181 361.5h7M184.5 358v7M181 381.5h7M184.5 378v7M181 385.5h7M184.5 382v7M181 386.5h7M184.5 383v7M181 387.5h7M184.5 384v7M181 388.5h7M184.5 385v7M181 389.5h7M184.5 386v7M181 394.5h7M184.5 391v7M181 397.5h7M184.5 394v7M181 400.5h7M184.5 397v7M181 401.5h7M184.5 398v7M182 330.5h7M185.5 327v7M182 332.5h7M185.5 329v7M182 333.5h7M185.5 330v7M182 358.5h7M185.5 355v7M182 359.5h7M185.5 356v7M182 360.5h7M185.5 357v7M182 382.5h7M185.5 379v7M182 383.5h7M185.5 380v7M182 386.5h7M185.5 383v7M182 390.5h7M185.5 387v7M182 393.5h7M185.5 390v7M182 398.5h7M185.5 395v7M183 302.5h7M186.5 299v7M183 330.5h7M186.5 327v7M183 355.5h7M186.5 352v7M183 369.5h7M186.5 366v7M183 375.5h7M186.5 372v7M183 382.5h7M186.5 379v7M183 385.5h7M186.5 382v7M183 387.5h7M186.5 384v7M183 390.5h7M186.5 387v7M183 394.5h7M186.5 391v7M183 395.5h7M186.5 392v7M183 401.5h7M186.5 398v7M183 402.5h7M186.5 399v7M183 405.5h7M186.5 402v7M183 408.5h7M186.5 405v7M184 306.5h7M187.5 303v7M184 338.5h7M187.5 335v7M184 362.5h7M187.5 359v7M184 370.5h7M187.5 367v7M184 380.5h7M187.5 377v7M184 388.5h7M187.5 385v7M184 392.5h7M187.5 389v7M184 401.5h7M187.5 398v7M184 402.5h7M187.5 399v7M185 309.5h7M188.5 306v7M185 310.5h7M188.5 307v7M185 332.5h7M188.5 329v7M185 364.5h7M188.5 361v7M185 372.5h7M188.5 369v7M185 375.5h7M188.5 372v7M185 381.5h7M188.5 378v7M185 395.5h7M188.5 392v7M185 406.5h7M188.5 403v7M185 409.5h7M188.5 406v7M185 413.5h7M188.5 410v7M186 319.5h7M189.5 316v7M186 326.5h7M189.5 323v7M186 360.5h7M189.5 357v7M186 361.5h7M189.5 358v7M186 366.5h7M189.5 363v7M186 369.5h7M189.5 366v7M186 370.5h7M189.5 367v7M186 375.5h7M189.5 372v7M186 377.5h7M189.5 374v7M186 381.5h7M189.5 378v7M186 386.5h7M189.5 383v7M186 393.5h7M189.5 390v7M186 396.5h7M189.5 393v7M186 399.5h7M189.5 396v7M187 323.5h7M190.5 320v7M187 324.5h7M190.5 321v7M187 328.5h7M190.5 325v7M187 331.5h7M190.5 328v7M187 332.5h7M190.5 329v7M187 333.5h7M190.5 330v7M187 367.5h7M190.5 364v7M187 368.5h7M190.5 365v7M187 375.5h7M190.5 372v7M187 379.5h7M190.5 376v7M187 381.5h7M190.5 378v7M187 384.5h7M190.5 381v7M187 404.5h7M190.5 401v7M187 405.5h7M190.5 402v7M187 407.5h7M190.5 404v7M187 409.5h7M190.5 406v7M188 327.5h7M191.5 324v7M188 328.5h7M191.5 325v7M188 329.5h7M191.5 326v7M188 335.5h7M191.5 332v7M188 379.5h7M191.5 376v7M188 389.5h7M191.5 386v7M188 397.5h7M191.5 394v7M189 370.5h7M192.5 367v7M189 376.5h7M192.5 373v7M189 380.5h7M192.5 377v7M189 383.5h7M192.5 380v7M189 401.5h7M192.5 398v7M189 403.5h7M192.5 400v7M189 407.5h7M192.5 404v7M190 329.5h7M193.5 326v7M190 330.5h7M193.5 327v7M190 332.5h7M193.5 329v7M190 334.5h7M193.5 331v7M190 337.5h7M193.5 334v7M190 375.5h7M193.5 372v7M190 385.5h7M193.5 382v7M191 323.5h7M194.5 320v7M191 331.5h7M194.5 328v7M191 336.5h7M194.5 333v7M191 351.5h7M194.5 348v7M191 355.5h7M194.5 352v7M191 361.5h7M194.5 358v7M191 362.5h7M194.5 359v7M191 380.5h7M194.5 377v7M191 388.5h7M194.5 385v7M191 389.5h7M194.5 386v7M192 331.5h7M195.5 328v7M192 333.5h7M195.5 330v7M192 352.5h7M195.5 349v7M192 355.5h7M195.5 352v7M192 357.5h7M195.5 354v7M192 360.5h7M195.5 357v7M192 361.5h7M195.5 358v7M192 362.5h7M195.5 359v7M192 363.5h7M195.5 360v7M192 371.5h7M195.5 368v7M192 376.5h7M195.5 373v7M192 380.5h7M195.5 377v7M193 357.5h7M196.5 354v7M193 358.5h7M196.5 355v7M193 365.5h7M196.5 362v7M193 366.5h7M196.5 363v7M193 374.5h7M196.5 371v7M193 375.5h7M196.5 372v7M193 383.5h7M196.5 380v7M193 386.5h7M196.5 383v7M194 352.5h7M197.5 349v7M194 355.5h7M197.5 352v7M194 356.5h7M197.5 353v7M194 358.5h7M197.5 355v7M194 359.5h7M197.5 356v7M194 360.5h7M197.5 357v7M194 373.5h7M197.5 370v7M194 376.5h7M197.5 373v7M194 382.5h7M197.5 379v7M194 387.5h7M197.5 384v7M194 388.5h7M197.5 385v7M194 392.5h7M197.5 389v7M195 360.5h7M198.5 357v7M195 374.5h7M198.5 371v7M195 388.5h7M198.5 385v7M195 400.5h7M198.5 397v7M196 359.5h7M199.5 356v7M196 365.5h7M199.5 362v7M196 371.5h7M199.5 368v7M196 380.5h7M199.5 377v7M197 357.5h7M200.5 354v7M197 363.5h7M200.5 360v7M197 372.5h7M200.5 369v7M197 389.5h7M200.5 386v7M198 354.5h7M201.5 351v7M198 359.5h7M201.5 356v7M198 365.5h7M201.5 362v7M198 370.5h7M201.5 367v7M198 373.5h7M201.5 370v7M198 379.5h7M201.5 376v7M198 396.5h7M201.5 393v7M199 340.5h7M202.5 337v7M199 344.5h7M202.5 341v7M199 370.5h7M202.5 367v7M199 386.5h7M202.5 383v7M199 391.5h7M202.5 388v7M199 392.5h7M202.5 389v7M200 342.5h7M203.5 339v7M200 345.5h7M203.5 342v7M200 358.5h7M203.5 355v7M200 381.5h7M203.5 378v7M200 385.5h7M203.5 382v7M200 392.5h7M203.5 389v7M200 397.5h7M203.5 394v7M200 398.5h7M203.5 395v7M201 332.5h7M204.5 329v7M201 355.5h7M204.5 352v7M201 362.5h7M204.5 359v7M201 375.5h7M204.5 372v7M201 380.5h7M204.5 377v7M201 385.5h7M204.5 382v7M201 387.5h7M204.5 384v7M201 390.5h7M204.5 387v7M201 395.5h7M204.5 392v7M202 354.5h7M205.5 351v7M202 364.5h7M205.5 361v7M202 367.5h7M205.5 364v7M202 383.5h7M205.5 380v7M202 386.5h7M205.5 383v7M203 339.5h7M206.5 336v7M203 361.5h7M206.5 358v7M203 365.5h7M206.5 362v7M203 366.5h7M206.5 363v7M203 372.5h7M206.5 369v7M203 374.5h7M206.5 371v7M203 375.5h7M206.5 372v7M203 376.5h7M206.5 373v7M203 380.5h7M206.5 377v7M203 382.5h7M206.5 379v7M203 388.5h7M206.5 385v7M203 394.5h7M206.5 391v7M204 344.5h7M207.5 341v7M204 359.5h7M207.5 356v7M204 360.5h7M207.5 357v7M204 364.5h7M207.5 361v7M204 365.5h7M207.5 362v7M204 367.5h7M207.5 364v7M204 370.5h7M207.5 367v7M204 375.5h7M207.5 372v7M204 376.5h7M207.5 373v7M204 386.5h7M207.5 383v7M204 388.5h7M207.5 385v7M204 393.5h7M207.5 390v7M205 329.5h7M208.5 326v7M205 343.5h7M208.5 340v7M205 344.5h7M208.5 341v7M205 358.5h7M208.5 355v7M205 364.5h7M208.5 361v7M205 370.5h7M208.5 367v7M205 373.5h7M208.5 370v7M205 374.5h7M208.5 371v7M205 379.5h7M208.5 376v7M205 394.5h7M208.5 391v7M206 329.5h7M209.5 326v7M206 338.5h7M209.5 335v7M206 353.5h7M209.5 350v7M206 354.5h7M209.5 351v7M206 364.5h7M209.5 361v7M206 366.5h7M209.5 363v7M206 379.5h7M209.5 376v7M206 394.5h7M209.5 391v7M207 329.5h7M210.5 326v7M207 330.5h7M210.5 327v7M207 346.5h7M210.5 343v7M207 349.5h7M210.5 346v7M207 350.5h7M210.5 347v7M207 393.5h7M210.5 390v7M207 395.5h7M210.5 392v7M208 339.5h7M211.5 336v7M208 351.5h7M211.5 348v7M208 368.5h7M211.5 365v7M208 375.5h7M211.5 372v7M208 376.5h7M211.5 373v7M209 302.5h7M212.5 299v7M209 354.5h7M212.5 351v7M209 363.5h7M212.5 360v7M209 365.5h7M212.5 362v7M209 373.5h7M212.5 370v7M209 379.5h7M212.5 376v7M209 395.5h7M212.5 392v7M209 396.5h7M212.5 393v7M209 401.5h7M212.5 398v7M210 219.5h7M213.5 216v7M210 229.5h7M213.5 226v7M210 236.5h7M213.5 233v7M210 362.5h7M213.5 359v7M210 366.5h7M213.5 363v7M210 374.5h7M213.5 371v7M210 376.5h7M213.5 373v7M210 377.5h7M213.5 374v7M210 388.5h7M213.5 385v7M210 393.5h7M213.5 390v7M210 395.5h7M213.5 392v7M210 397.5h7M213.5 394v7M210 404.5h7M213.5 401v7M211 259.5h7M214.5 256v7M211 260.5h7M214.5 257v7M211 366.5h7M214.5 363v7M211 369.5h7M214.5 366v7M211 370.5h7M214.5 367v7M211 375.5h7M214.5 372v7M211 381.5h7M214.5 378v7M212 238.5h7M215.5 235v7M212 240.5h7M215.5 237v7M212 247.5h7M215.5 244v7M212 253.5h7M215.5 250v7M212 267.5h7M215.5 264v7M212 275.5h7M215.5 272v7M212 283.5h7M215.5 280v7M212 317.5h7M215.5 314v7M212 334.5h7M215.5 331v7M212 338.5h7M215.5 335v7M212 373.5h7M215.5 370v7M212 375.5h7M215.5 372v7M212 383.5h7M215.5 380v7M212 395.5h7M215.5 392v7M212 396.5h7M215.5 393v7M212 397.5h7M215.5 394v7M213 228.5h7M216.5 225v7M213 280.5h7M216.5 277v7M213 319.5h7M216.5 316v7M213 355.5h7M216.5 352v7M213 358.5h7M216.5 355v7M213 361.5h7M216.5 358v7M213 364.5h7M216.5 361v7M213 365.5h7M216.5 362v7M213 369.5h7M216.5 366v7M213 372.5h7M216.5 369v7M213 376.5h7M216.5 373v7M213 383.5h7M216.5 380v7M213 385.5h7M216.5 382v7M213 391.5h7M216.5 388v7M213 394.5h7M216.5 391v7M213 396.5h7M216.5 393v7M213 397.5h7M216.5 394v7M214 234.5h7M217.5 231v7M214 325.5h7M217.5 322v7M214 356.5h7M217.5 353v7M214 364.5h7M217.5 361v7M214 365.5h7M217.5 362v7M214 368.5h7M217.5 365v7M214 372.5h7M217.5 369v7M214 375.5h7M217.5 372v7M214 376.5h7M217.5 373v7M214 377.5h7M217.5 374v7M214 379.5h7M217.5 376v7M214 383.5h7M217.5 380v7M214 387.5h7M217.5 384v7M214 388.5h7M217.5 385v7M214 395.5h7M217.5 392v7M214 396.5h7M217.5 393v7M214 402.5h7M217.5 399v7M215 239.5h7M218.5 236v7M215 270.5h7M218.5 267v7M215 331.5h7M218.5 328v7M215 334.5h7M218.5 331v7M215 360.5h7M218.5 357v7M215 364.5h7M218.5 361v7M215 369.5h7M218.5 366v7M215 375.5h7M218.5 372v7M215 377.5h7M218.5 374v7M215 379.5h7M218.5 376v7M215 382.5h7M218.5 379v7M215 384.5h7M218.5 381v7M215 388.5h7M218.5 385v7M215 393.5h7M218.5 390v7M216 280.5h7M219.5 277v7M216 285.5h7M219.5 282v7M216 294.5h7M219.5 291v7M216 331.5h7M219.5 328v7M216 349.5h7M219.5 346v7M216 359.5h7M219.5 356v7M216 360.5h7M219.5 357v7M216 370.5h7M219.5 367v7M216 376.5h7M219.5 373v7M216 377.5h7M219.5 374v7M216 379.5h7M219.5 376v7M216 393.5h7M219.5 390v7M216 396.5h7M219.5 393v7M217 359.5h7M220.5 356v7M217 371.5h7M220.5 368v7M217 375.5h7M220.5 372v7M217 381.5h7M220.5 378v7M217 384.5h7M220.5 381v7M217 391.5h7M220.5 388v7M218 306.5h7M221.5 303v7M218 310.5h7M221.5 307v7M218 360.5h7M221.5 357v7M218 364.5h7M221.5 361v7M218 370.5h7M221.5 367v7M218 371.5h7M221.5 368v7M218 378.5h7M221.5 375v7M218 379.5h7M221.5 376v7M218 392.5h7M221.5 389v7M219 303.5h7M222.5 300v7M219 334.5h7M222.5 331v7M219 354.5h7M222.5 351v7M219 355.5h7M222.5 352v7M219 363.5h7M222.5 360v7M219 368.5h7M222.5 365v7M219 377.5h7M222.5 374v7M219 378.5h7M222.5 375v7M220 305.5h7M223.5 302v7M220 343.5h7M223.5 340v7M220 361.5h7M223.5 358v7M220 365.5h7M223.5 362v7M220 369.5h7M223.5 366v7M220 373.5h7M223.5 370v7M220 375.5h7M223.5 372v7M221 337.5h7M224.5 334v7M221 343.5h7M224.5 340v7M221 358.5h7M224.5 355v7M221 359.5h7M224.5 356v7M221 365.5h7M224.5 362v7M221 367.5h7M224.5 364v7M221 368.5h7M224.5 365v7M221 369.5h7M224.5 366v7M221 372.5h7M224.5 369v7M221 374.5h7M224.5 371v7M221 378.5h7M224.5 375v7M221 379.5h7M224.5 376v7M221 384.5h7M224.5 381v7M221 386.5h7M224.5 383v7M222 308.5h7M225.5 305v7M222 339.5h7M225.5 336v7M222 353.5h7M225.5 350v7M222 360.5h7M225.5 357v7M222 361.5h7M225.5 358v7M222 362.5h7M225.5 359v7M222 363.5h7M225.5 360v7M222 365.5h7M225.5 362v7M222 368.5h7M225.5 365v7M222 369.5h7M225.5 366v7M222 373.5h7M225.5 370v7M222 374.5h7M225.5 371v7M222 375.5h7M225.5 372v7M222 377.5h7M225.5 374v7M222 382.5h7M225.5 379v7M222 383.5h7M225.5 380v7M222 384.5h7M225.5 381v7M222 385.5h7M225.5 382v7M222 390.5h7M225.5 387v7M223 346.5h7M226.5 343v7M223 354.5h7M226.5 351v7M223 358.5h7M226.5 355v7M223 359.5h7M226.5 356v7M223 363.5h7M226.5 360v7M223 365.5h7M226.5 362v7M223 373.5h7M226.5 370v7M223 375.5h7M226.5 372v7M224 349.5h7M227.5 346v7M224 350.5h7M227.5 347v7M224 359.5h7M227.5 356v7M224 362.5h7M227.5 359v7M224 364.5h7M227.5 361v7M224 366.5h7M227.5 363v7M224 374.5h7M227.5 371v7M225 295.5h7M228.5 292v7M225 297.5h7M228.5 294v7M225 300.5h7M228.5 297v7M225 312.5h7M228.5 309v7M225 355.5h7M228.5 352v7M225 360.5h7M228.5 357v7M225 363.5h7M228.5 360v7M225 364.5h7M228.5 361v7M225 376.5h7M228.5 373v7M226 354.5h7M229.5 351v7M226 358.5h7M229.5 355v7M226 359.5h7M229.5 356v7M227 355.5h7M230.5 352v7M227 359.5h7M230.5 356v7M227 368.5h7M230.5 365v7M227 370.5h7M230.5 367v7M227 372.5h7M230.5 369v7M228 358.5h7M231.5 355v7M228 360.5h7M231.5 357v7M228 362.5h7M231.5 359v7M228 368.5h7M231.5 365v7M228 369.5h7M231.5 366v7M229 331.5h7M232.5 328v7M229 332.5h7M232.5 329v7M229 354.5h7M232.5 351v7M229 362.5h7M232.5 359v7M229 366.5h7M232.5 363v7M230 333.5h7M233.5 330v7M230 351.5h7M233.5 348v7M230 366.5h7M233.5 363v7M231 332.5h7M234.5 329v7M231 335.5h7M234.5 332v7M231 352.5h7M234.5 349v7M231 359.5h7M234.5 356v7M231 366.5h7M234.5 363v7M231 371.5h7M234.5 368v7M232 354.5h7M235.5 351v7M232 358.5h7M235.5 355v7M232 366.5h7M235.5 363v7M232 367.5h7M235.5 364v7M233 344.5h7M236.5 341v7M233 352.5h7M236.5 349v7M233 355.5h7M236.5 352v7M234 347.5h7M237.5 344v7M234 348.5h7M237.5 345v7M234 350.5h7M237.5 347v7M234 352.5h7M237.5 349v7M234 355.5h7M237.5 352v7M234 362.5h7M237.5 359v7M234 367.5h7M237.5 364v7M234 370.5h7M237.5 367v7M235 340.5h7M238.5 337v7M235 344.5h7M238.5 341v7M235 346.5h7M238.5 343v7M235 349.5h7M238.5 346v7M235 358.5h7M238.5 355v7M235 359.5h7M238.5 356v7M235 372.5h7M238.5 369v7M236 358.5h7M239.5 355v7M236 362.5h7M239.5 359v7M236 363.5h7M239.5 360v7M236 365.5h7M239.5 362v7M236 368.5h7M239.5 365v7M236 373.5h7M239.5 370v7M236 377.5h7M239.5 374v7M237 343.5h7M240.5 340v7M237 344.5h7M240.5 341v7M237 359.5h7M240.5 356v7M237 360.5h7M240.5 357v7M237 363.5h7M240.5 360v7M237 367.5h7M240.5 364v7M237 372.5h7M240.5 369v7M237 381.5h7M240.5 378v7M237 382.5h7M240.5 379v7M238 354.5h7M241.5 351v7M238 356.5h7M241.5 353v7M238 370.5h7M241.5 367v7M238 372.5h7M241.5 369v7M238 388.5h7M241.5 385v7M239 358.5h7M242.5 355v7M239 369.5h7M242.5 366v7M239 374.5h7M242.5 371v7M239 378.5h7M242.5 375v7M239 379.5h7M242.5 376v7M239 380.5h7M242.5 377v7M239 381.5h7M242.5 378v7M239 388.5h7M242.5 385v7M240 340.5h7M243.5 337v7M240 347.5h7M243.5 344v7M240 348.5h7M243.5 345v7M240 350.5h7M243.5 347v7M240 362.5h7M243.5 359v7M240 373.5h7M243.5 370v7M240 374.5h7M243.5 371v7M240 377.5h7M243.5 374v7M240 383.5h7M243.5 380v7M240 392.5h7M243.5 389v7M241 343.5h7M244.5 340v7M241 345.5h7M244.5 342v7M241 350.5h7M244.5 347v7M241 353.5h7M244.5 350v7M241 358.5h7M244.5 355v7M241 375.5h7M244.5 372v7M241 379.5h7M244.5 376v7M241 381.5h7M244.5 378v7M241 382.5h7M244.5 379v7M241 385.5h7M244.5 382v7M241 386.5h7M244.5 383v7M241 387.5h7M244.5 384v7M241 390.5h7M244.5 387v7M241 391.5h7M244.5 388v7M242 328.5h7M245.5 325v7M242 348.5h7M245.5 345v7M242 354.5h7M245.5 351v7M242 357.5h7M245.5 354v7M242 360.5h7M245.5 357v7M242 361.5h7M245.5 358v7M242 366.5h7M245.5 363v7M242 371.5h7M245.5 368v7M242 372.5h7M245.5 369v7M242 381.5h7M245.5 378v7M242 392.5h7M245.5 389v7M243 303.5h7M246.5 300v7M243 305.5h7M246.5 302v7M243 313.5h7M246.5 310v7M243 359.5h7M246.5 356v7M243 360.5h7M246.5 357v7M243 361.5h7M246.5 358v7M243 364.5h7M246.5 361v7M243 366.5h7M246.5 363v7M243 382.5h7M246.5 379v7M243 383.5h7M246.5 380v7M243 386.5h7M246.5 383v7M243 390.5h7M246.5 387v7M243 397.5h7M246.5 394v7M243 398.5h7M246.5 395v7M244 301.5h7M247.5 298v7M244 356.5h7M247.5 353v7M244 362.5h7M247.5 359v7M244 363.5h7M247.5 360v7M244 368.5h7M247.5 365v7M244 371.5h7M247.5 368v7M244 377.5h7M247.5 374v7M244 379.5h7M247.5 376v7M244 383.5h7M247.5 380v7M244 390.5h7M247.5 387v7M245 299.5h7M248.5 296v7M245 373.5h7M248.5 370v7M245 383.5h7M248.5 380v7M245 384.5h7M248.5 381v7M245 385.5h7M248.5 382v7M245 388.5h7M248.5 385v7M246 315.5h7M249.5 312v7M246 374.5h7M249.5 371v7M246 383.5h7M249.5 380v7M246 385.5h7M249.5 382v7M246 386.5h7M249.5 383v7M246 388.5h7M249.5 385v7M247 320.5h7M250.5 317v7M247 376.5h7M250.5 373v7M248 322.5h7M251.5 319v7M248 328.5h7M251.5 325v7M248 390.5h7M251.5 387v7M249 316.5h7M252.5 313v7M249 323.5h7M252.5 320v7M249 325.5h7M252.5 322v7M249 370.5h7M252.5 367v7M249 384.5h7M252.5 381v7M250 311.5h7M253.5 308v7M250 313.5h7M253.5 310v7M250 324.5h7M253.5 321v7M250 372.5h7M253.5 369v7M250 375.5h7M253.5 372v7M250 385.5h7M253.5 382v7M251 324.5h7M254.5 321v7M251 368.5h7M254.5 365v7M251 388.5h7M254.5 385v7M252 316.5h7M255.5 313v7M252 366.5h7M255.5 363v7M252 380.5h7M255.5 377v7M252 391.5h7M255.5 388v7M253 374.5h7M256.5 371v7M253 389.5h7M256.5 386v7M253 390.5h7M256.5 387v7M253 392.5h7M256.5 389v7M253 398.5h7M256.5 395v7M254 392.5h7M257.5 389v7M255 373.5h7M258.5 370v7M255 375.5h7M258.5 372v7M255 388.5h7M258.5 385v7M255 390.5h7M258.5 387v7M255 391.5h7M258.5 388v7M255 392.5h7M258.5 389v7M255 393.5h7M258.5 390v7M255 395.5h7M258.5 392v7M255 396.5h7M258.5 393v7M256 297.5h7M259.5 294v7M256 326.5h7M259.5 323v7M256 329.5h7M259.5 326v7M256 360.5h7M259.5 357v7M256 366.5h7M259.5 363v7M256 377.5h7M259.5 374v7M256 381.5h7M259.5 378v7M256 392.5h7M259.5 389v7M256 396.5h7M259.5 393v7M257 300.5h7M260.5 297v7M257 314.5h7M260.5 311v7M257 322.5h7M260.5 319v7M257 347.5h7M260.5 344v7M257 361.5h7M260.5 358v7M257 382.5h7M260.5 379v7M257 383.5h7M260.5 380v7M257 385.5h7M260.5 382v7M257 386.5h7M260.5 383v7M257 387.5h7M260.5 384v7M257 393.5h7M260.5 390v7M258 311.5h7M261.5 308v7M258 361.5h7M261.5 358v7M258 366.5h7M261.5 363v7M258 374.5h7M261.5 371v7M258 377.5h7M261.5 374v7M258 383.5h7M261.5 380v7M258 393.5h7M261.5 390v7M259 317.5h7M262.5 314v7M259 340.5h7M262.5 337v7M259 366.5h7M262.5 363v7M259 367.5h7M262.5 364v7M259 372.5h7M262.5 369v7M259 374.5h7M262.5 371v7M259 384.5h7M262.5 381v7M259 387.5h7M262.5 384v7M259 388.5h7M262.5 385v7M260 301.5h7M263.5 298v7M260 303.5h7M263.5 300v7M260 334.5h7M263.5 331v7M260 335.5h7M263.5 332v7M260 347.5h7M263.5 344v7M260 358.5h7M263.5 355v7M260 366.5h7M263.5 363v7M260 368.5h7M263.5 365v7M260 373.5h7M263.5 370v7M260 374.5h7M263.5 371v7M261 310.5h7M264.5 307v7M261 325.5h7M264.5 322v7M261 331.5h7M264.5 328v7M261 342.5h7M264.5 339v7M261 363.5h7M264.5 360v7M261 373.5h7M264.5 370v7M261 374.5h7M264.5 371v7M261 378.5h7M264.5 375v7M261 381.5h7M264.5 378v7M261 390.5h7M264.5 387v7M262 359.5h7M265.5 356v7M262 360.5h7M265.5 357v7M262 362.5h7M265.5 359v7M262 363.5h7M265.5 360v7M262 364.5h7M265.5 361v7M262 385.5h7M265.5 382v7M263 343.5h7M266.5 340v7M263 344.5h7M266.5 341v7M263 353.5h7M266.5 350v7M263 357.5h7M266.5 354v7M263 358.5h7M266.5 355v7M263 359.5h7M266.5 356v7M263 360.5h7M266.5 357v7M263 362.5h7M266.5 359v7M263 364.5h7M266.5 361v7M263 371.5h7M266.5 368v7M263 385.5h7M266.5 382v7M263 386.5h7M266.5 383v7M263 387.5h7M266.5 384v7M263 392.5h7M266.5 389v7M263 394.5h7M266.5 391v7M264 356.5h7M267.5 353v7M264 360.5h7M267.5 357v7M264 395.5h7M267.5 392v7M265 331.5h7M268.5 328v7M265 334.5h7M268.5 331v7M265 335.5h7M268.5 332v7M265 336.5h7M268.5 333v7M265 338.5h7M268.5 335v7M265 348.5h7M268.5 345v7M265 355.5h7M268.5 352v7M265 364.5h7M268.5 361v7M265 385.5h7M268.5 382v7M265 387.5h7M268.5 384v7M265 390.5h7M268.5 387v7M265 391.5h7M268.5 388v7M265 393.5h7M268.5 390v7M266 333.5h7M269.5 330v7M266 345.5h7M269.5 342v7M266 360.5h7M269.5 357v7M266 361.5h7M269.5 358v7M266 366.5h7M269.5 363v7M266 377.5h7M269.5 374v7M266 387.5h7M269.5 384v7M267 332.5h7M270.5 329v7M267 347.5h7M270.5 344v7M267 352.5h7M270.5 349v7M267 365.5h7M270.5 362v7M267 374.5h7M270.5 371v7M267 375.5h7M270.5 372v7M267 380.5h7M270.5 377v7M267 381.5h7M270.5 378v7M267 389.5h7M270.5 386v7M267 395.5h7M270.5 392v7M268 337.5h7M271.5 334v7M268 346.5h7M271.5 343v7M268 360.5h7M271.5 357v7M268 377.5h7M271.5 374v7M268 379.5h7M271.5 376v7M268 385.5h7M271.5 382v7M268 389.5h7M271.5 386v7M268 393.5h7M271.5 390v7M268 395.5h7M271.5 392v7M269 332.5h7M272.5 329v7M269 334.5h7M272.5 331v7M269 340.5h7M272.5 337v7M269 355.5h7M272.5 352v7M269 371.5h7M272.5 368v7M269 372.5h7M272.5 369v7M269 374.5h7M272.5 371v7M269 375.5h7M272.5 372v7M269 377.5h7M272.5 374v7M269 380.5h7M272.5 377v7M269 383.5h7M272.5 380v7M269 384.5h7M272.5 381v7M269 389.5h7M272.5 386v7M269 391.5h7M272.5 388v7M269 395.5h7M272.5 392v7M270 333.5h7M273.5 330v7M270 334.5h7M273.5 331v7M270 335.5h7M273.5 332v7M270 336.5h7M273.5 333v7M270 378.5h7M273.5 375v7M270 392.5h7M273.5 389v7M271 331.5h7M274.5 328v7M271 333.5h7M274.5 330v7M271 347.5h7M274.5 344v7M271 366.5h7M274.5 363v7M271 373.5h7M274.5 370v7M271 374.5h7M274.5 371v7M271 375.5h7M274.5 372v7M271 378.5h7M274.5 375v7M271 382.5h7M274.5 379v7M271 386.5h7M274.5 383v7M271 391.5h7M274.5 388v7M271 393.5h7M274.5 390v7M272 371.5h7M275.5 368v7M272 383.5h7M275.5 380v7M273 355.5h7M276.5 352v7M273 361.5h7M276.5 358v7M274 361.5h7M277.5 358v7M274 365.5h7M277.5 362v7M275 353.5h7M278.5 350v7M275 359.5h7M278.5 356v7M275 362.5h7M278.5 359v7M275 384.5h7M278.5 381v7M275 385.5h7M278.5 382v7M276 359.5h7M279.5 356v7M276 361.5h7M279.5 358v7M276 362.5h7M279.5 359v7M276 367.5h7M279.5 364v7M276 386.5h7M279.5 383v7M277 357.5h7M280.5 354v7M277 375.5h7M280.5 372v7M277 378.5h7M280.5 375v7M277 382.5h7M280.5 379v7M277 387.5h7M280.5 384v7M278 358.5h7M281.5 355v7M278 375.5h7M281.5 372v7M278 376.5h7M281.5 373v7M278 385.5h7M281.5 382v7M278 395.5h7M281.5 392v7M279 355.5h7M282.5 352v7M279 362.5h7M282.5 359v7M279 366.5h7M282.5 363v7M279 374.5h7M282.5 371v7M279 379.5h7M282.5 376v7M279 383.5h7M282.5 380v7M279 388.5h7M282.5 385v7M279 390.5h7M282.5 387v7M279 395.5h7M282.5 392v7M280 337.5h7M283.5 334v7M280 339.5h7M283.5 336v7M280 378.5h7M283.5 375v7M280 381.5h7M283.5 378v7M280 383.5h7M283.5 380v7M280 386.5h7M283.5 383v7M280 388.5h7M283.5 385v7M280 392.5h7M283.5 389v7M280 398.5h7M283.5 395v7M280 399.5h7M283.5 396v7M280 400.5h7M283.5 397v7M281 340.5h7M284.5 337v7M281 364.5h7M284.5 361v7M281 367.5h7M284.5 364v7M281 376.5h7M284.5 373v7M281 379.5h7M284.5 376v7M282 331.5h7M285.5 328v7M282 336.5h7M285.5 333v7M282 361.5h7M285.5 358v7M282 362.5h7M285.5 359v7M282 363.5h7M285.5 360v7M282 364.5h7M285.5 361v7M282 365.5h7M285.5 362v7M282 393.5h7M285.5 390v7M282 394.5h7M285.5 391v7M283 340.5h7M286.5 337v7M283 362.5h7M286.5 359v7M283 365.5h7M286.5 362v7M283 367.5h7M286.5 364v7M283 368.5h7M286.5 365v7M283 380.5h7M286.5 377v7M283 391.5h7M286.5 388v7M284 336.5h7M287.5 333v7M284 339.5h7M287.5 336v7M284 361.5h7M287.5 358v7M284 362.5h7M287.5 359v7M284 364.5h7M287.5 361v7M284 366.5h7M287.5 363v7M284 372.5h7M287.5 369v7M284 377.5h7M287.5 374v7M284 382.5h7M287.5 379v7M284 384.5h7M287.5 381v7M285 360.5h7M288.5 357v7M285 364.5h7M288.5 361v7M285 366.5h7M288.5 363v7M285 367.5h7M288.5 364v7M285 371.5h7M288.5 368v7M285 379.5h7M288.5 376v7M285 380.5h7M288.5 377v7M286 363.5h7M289.5 360v7M286 365.5h7M289.5 362v7M286 368.5h7M289.5 365v7M286 377.5h7M289.5 374v7M286 383.5h7M289.5 380v7M286 390.5h7M289.5 387v7M286 392.5h7M289.5 389v7M286 394.5h7M289.5 391v7M286 395.5h7M289.5 392v7M287 352.5h7M290.5 349v7M287 361.5h7M290.5 358v7M287 364.5h7M290.5 361v7M287 365.5h7M290.5 362v7M287 366.5h7M290.5 363v7M287 367.5h7M290.5 364v7M287 368.5h7M290.5 365v7M287 374.5h7M290.5 371v7M287 377.5h7M290.5 374v7M287 389.5h7M290.5 386v7M287 392.5h7M290.5 389v7M287 396.5h7M290.5 393v7M287 398.5h7M290.5 395v7M288 360.5h7M291.5 357v7M288 362.5h7M291.5 359v7M288 372.5h7M291.5 369v7M288 373.5h7M291.5 370v7M288 377.5h7M291.5 374v7M288 378.5h7M291.5 375v7M288 379.5h7M291.5 376v7M288 381.5h7M291.5 378v7M288 384.5h7M291.5 381v7M288 392.5h7M291.5 389v7M289 384.5h7M292.5 381v7M293 363.5h7M296.5 360v7M293 364.5h7M296.5 361v7M293 371.5h7M296.5 368v7M294 370.5h7M297.5 367v7M294 373.5h7M297.5 370v7M295 367.5h7M298.5 364v7M295 377.5h7M298.5 374v7M295 380.5h7M298.5 377v7M296 366.5h7M299.5 363v7M296 368.5h7M299.5 365v7M296 370.5h7M299.5 367v7M297 368.5h7M300.5 365v7M297 369.5h7M300.5 366v7M297 373.5h7M300.5 370v7M297 374.5h7M300.5 371v7M297 377.5h7M300.5 374v7M298 371.5h7M301.5 368v7M299 363.5h7M302.5 360v7M299 367.5h7M302.5 364v7M299 369.5h7M302.5 366v7M299 373.5h7M302.5 370v7M300 367.5h7M303.5 364v7M300 368.5h7M303.5 365v7M300 370.5h7M303.5 367v7M300 371.5h7M303.5 368v7M301 372.5h7M304.5 369v7M302 376.5h7M305.5 373v7M303 374.5h7M306.5 371v7M304 374.5h7M307.5 371v7M305 372.5h7M308.5 369v7M305 373.5h7M308.5 370v7M305 374.5h7M308.5 371v7M306 371.5h7M309.5 368v7M306 374.5h7M309.5 371v7M306 377.5h7M309.5 374v7M306 378.5h7M309.5 375v7M307 371.5h7M310.5 368v7M307 384.5h7M310.5 381v7M308 372.5h7M311.5 369v7M308 378.5h7M311.5 375v7M308 379.5h7M311.5 376v7M308 380.5h7M311.5 377v7M308 381.5h7M311.5 378v7M308 382.5h7M311.5 379v7M308 383.5h7M311.5 380v7M308 384.5h7M311.5 381v7M308 387.5h7M311.5 384v7M308 389.5h7M311.5 386v7M309 379.5h7M312.5 376v7M309 380.5h7M312.5 377v7M309 384.5h7M312.5 381v7M310 361.5h7M313.5 358v7M310 383.5h7M313.5 380v7M310 384.5h7M313.5 381v7M311 361.5h7M314.5 358v7M311 366.5h7M314.5 363v7M311 371.5h7M314.5 368v7M311 374.5h7M314.5 371v7M311 377.5h7M314.5 374v7M311 381.5h7M314.5 378v7M311 385.5h7M314.5 382v7M311 387.5h7M314.5 384v7M311 392.5h7M314.5 389v7M312 362.5h7M315.5 359v7M312 364.5h7M315.5 361v7M312 366.5h7M315.5 363v7M312 368.5h7M315.5 365v7M312 374.5h7M315.5 371v7M312 385.5h7M315.5 382v7M312 393.5h7M315.5 390v7M313 362.5h7M316.5 359v7M313 366.5h7M316.5 363v7M313 368.5h7M316.5 365v7M313 369.5h7M316.5 366v7M313 377.5h7M316.5 374v7M313 389.5h7M316.5 386v7M314 392.5h7M317.5 389v7M315 376.5h7M318.5 373v7M315 380.5h7M318.5 377v7M315 382.5h7M318.5 379v7M315 387.5h7M318.5 384v7M315 388.5h7M318.5 385v7M315 389.5h7M318.5 386v7M315 390.5h7M318.5 387v7M315 394.5h7M318.5 391v7M315 396.5h7M318.5 393v7M315 407.5h7M318.5 404v7M315 414.5h7M318.5 411v7M323 363.5h7M326.5 360v7M323 376.5h7M326.5 373v7M323 377.5h7M326.5 374v7M323 380.5h7M326.5 377v7M323 395.5h7M326.5 392v7M323 406.5h7M326.5 403v7M323 410.5h7M326.5 407v7M324 374.5h7M327.5 371v7M325 384.5h7M328.5 381v7M326 379.5h7M329.5 376v7M326 382.5h7M329.5 379v7M327 382.5h7M330.5 379v7M327 383.5h7M330.5 380v7M328 367.5h7M331.5 364v7M328 374.5h7M331.5 371v7M328 377.5h7M331.5 374v7M328 379.5h7M331.5 376v7M328 381.5h7M331.5 378v7M329 376.5h7M332.5 373v7M329 382.5h7M332.5 379v7M330 374.5h7M333.5 371v7M330 377.5h7M333.5 374v7M330 378.5h7M333.5 375v7M330 381.5h7M333.5 378v7M330 382.5h7M333.5 379v7M331 373.5h7M334.5 370v7M331 378.5h7M334.5 375v7M332 377.5h7M335.5 374v7M333 373.5h7M336.5 370v7M334 371.5h7M337.5 368v7M334 372.5h7M337.5 369v7M334 373.5h7M337.5 370v7M335 370.5h7M338.5 367v7M335 376.5h7M338.5 373v7M336 372.5h7M339.5 369v7M336 378.5h7M339.5 375v7M338 381.5h7M341.5 378v7M339 371.5h7M342.5 368v7M340 368.5h7M343.5 365v7M340 373.5h7M343.5 370v7M340 377.5h7M343.5 374v7M340 378.5h7M343.5 375v7M340 386.5h7M343.5 383v7M341 372.5h7M344.5 369v7M341 374.5h7M344.5 371v7M341 375.5h7M344.5 372v7M341 381.5h7M344.5 378v7M341 384.5h7M344.5 381v7M342 368.5h7M345.5 365v7M342 370.5h7M345.5 367v7M342 375.5h7M345.5 372v7M342 378.5h7M345.5 375v7M342 380.5h7M345.5 377v7M343 365.5h7M346.5 362v7M343 368.5h7M346.5 365v7M343 376.5h7M346.5 373v7M343 379.5h7M346.5 376v7M344 363.5h7M347.5 360v7M344 364.5h7M347.5 361v7M344 365.5h7M347.5 362v7M344 369.5h7M347.5 366v7M344 374.5h7M347.5 371v7M344 376.5h7M347.5 373v7M345 372.5h7M348.5 369v7M345 377.5h7M348.5 374v7M346 365.5h7M349.5 362v7M347 358.5h7M350.5 355v7M347 363.5h7M350.5 360v7M348 355.5h7M351.5 352v7M349 382.5h7M352.5 379v7M350 385.5h7M353.5 382v7M351 374.5h7M354.5 371v7M351 375.5h7M354.5 372v7M351 383.5h7M354.5 380v7M352 372.5h7M355.5 369v7M352 376.5h7M355.5 373v7M352 380.5h7M355.5 377v7M352 382.5h7M355.5 379v7M352 387.5h7M355.5 384v7M353 377.5h7M356.5 374v7M353 383.5h7M356.5 380v7M354 362.5h7M357.5 359v7M354 370.5h7M357.5 367v7M354 385.5h7M357.5 382v7M354 391.5h7M357.5 388v7M354 397.5h7M357.5 394v7M354 398.5h7M357.5 395v7M354 401.5h7M357.5 398v7M355 389.5h7M358.5 386v7M355 400.5h7M358.5 397v7M356 379.5h7M359.5 376v7M356 392.5h7M359.5 389v7M356 402.5h7M359.5 399v7M357 390.5h7M360.5 387v7M357 399.5h7M360.5 396v7M358 386.5h7M361.5 383v7M358 387.5h7M361.5 384v7M358 390.5h7M361.5 387v7M358 398.5h7M361.5 395v7M359 400.5h7M362.5 397v7M360 399.5h7M363.5 396v7M362 396.5h7M365.5 393v7M362 399.5h7M365.5 396v7M362 400.5h7M365.5 397v7M362 404.5h7M365.5 401v7M363 378.5h7M366.5 375v7M363 390.5h7M366.5 387v7M363 392.5h7M366.5 389v7M363 393.5h7M366.5 390v7M363 397.5h7M366.5 394v7M363 398.5h7M366.5 395v7M363 400.5h7M366.5 397v7M364 394.5h7M367.5 391v7M364 402.5h7M367.5 399v7M364 404.5h7M367.5 401v7M365 388.5h7M368.5 385v7M365 392.5h7M368.5 389v7M365 393.5h7M368.5 390v7M365 395.5h7M368.5 392v7M365 397.5h7M368.5 394v7M365 400.5h7M368.5 397v7M365 402.5h7M368.5 399v7M366 389.5h7M369.5 386v7M366 400.5h7M369.5 397v7M367 391.5h7M370.5 388v7M367 392.5h7M370.5 389v7M368 384.5h7M371.5 381v7M368 393.5h7M371.5 390v7M368 394.5h7M371.5 391v7M368 396.5h7M371.5 393v7M368 397.5h7M371.5 394v7M369 395.5h7M372.5 392v7M370 390.5h7M373.5 387v7M372 381.5h7M375.5 378v7M373 391.5h7M376.5 388v7M373 399.5h7M376.5 396v7M373 403.5h7M376.5 400v7M374 375.5h7M377.5 372v7M375 339.5h7M378.5 336v7M375 381.5h7M378.5 378v7M375 401.5h7M378.5 398v7M375 403.5h7M378.5 400v7M376 320.5h7M379.5 317v7M376 396.5h7M379.5 393v7M376 398.5h7M379.5 395v7M376 399.5h7M379.5 396v7M376 400.5h7M379.5 397v7M377 321.5h7M380.5 318v7M377 325.5h7M380.5 322v7M377 326.5h7M380.5 323v7M377 391.5h7M380.5 388v7M377 401.5h7M380.5 398v7M378 315.5h7M381.5 312v7M378 323.5h7M381.5 320v7M378 328.5h7M381.5 325v7M378 330.5h7M381.5 327v7M378 391.5h7M381.5 388v7M378 401.5h7M381.5 398v7M379 393.5h7M382.5 390v7M379 394.5h7M382.5 391v7M379 395.5h7M382.5 392v7M380 335.5h7M383.5 332v7M380 337.5h7M383.5 334v7M380 383.5h7M383.5 380v7M380 391.5h7M383.5 388v7M381 397.5h7M384.5 394v7M381 404.5h7M384.5 401v7M382 401.5h7M385.5 398v7M382 405.5h7M385.5 402v7M383 396.5h7M386.5 393v7M385 391.5h7M388.5 388v7M387 390.5h7M390.5 387v7M387 391.5h7M390.5 388v7M388 376.5h7M391.5 373v7M388 390.5h7M391.5 387v7M388 393.5h7M391.5 390v7M390 389.5h7M393.5 386v7M390 396.5h7M393.5 393v7M391 391.5h7M394.5 388v7M391 395.5h7M394.5 392v7M391 402.5h7M394.5 399v7M393 380.5h7M396.5 377v7M393 381.5h7M396.5 378v7M393 383.5h7M396.5 380v7M394 380.5h7M397.5 377v7M394 382.5h7M397.5 379v7M394 388.5h7M397.5 385v7M394 390.5h7M397.5 387v7M394 391.5h7M397.5 388v7M394 392.5h7M397.5 389v7M394 397.5h7M397.5 394v7M395 379.5h7M398.5 376v7M395 386.5h7M398.5 383v7M395 389.5h7M398.5 386v7M395 392.5h7M398.5 389v7M396 388.5h7M399.5 385v7M396 391.5h7M399.5 388v7M396 392.5h7M399.5 389v7M396 402.5h7M399.5 399v7M397 382.5h7M400.5 379v7M397 394.5h7M400.5 391v7M397 396.5h7M400.5 393v7M398 388.5h7M401.5 385v7M398 392.5h7M401.5 389v7M399 384.5h7M402.5 381v7M399 388.5h7M402.5 385v7M399 389.5h7M402.5 386v7M399 391.5h7M402.5 388v7M400 385.5h7M403.5 382v7M400 393.5h7M403.5 390v7M400 399.5h7M403.5 396v7M400 400.5h7M403.5 397v7M401 385.5h7M404.5 382v7M402 388.5h7M405.5 385v7M402 391.5h7M405.5 388v7M403 384.5h7M406.5 381v7M403 386.5h7M406.5 383v7M403 389.5h7M406.5 386v7M403 396.5h7M406.5 393v7M404 379.5h7M407.5 376v7M404 382.5h7M407.5 379v7M404 385.5h7M407.5 382v7M404 386.5h7M407.5 383v7M404 388.5h7M407.5 385v7M404 391.5h7M407.5 388v7M404 392.5h7M407.5 389v7M405 351.5h7M408.5 348v7M405 352.5h7M408.5 349v7M405 375.5h7M408.5 372v7M405 388.5h7M408.5 385v7M405 392.5h7M408.5 389v7M405 398.5h7M408.5 395v7M405 399.5h7M408.5 396v7M406 348.5h7M409.5 345v7M406 352.5h7M409.5 349v7M406 368.5h7M409.5 365v7M406 373.5h7M409.5 370v7M406 375.5h7M409.5 372v7M406 383.5h7M409.5 380v7M407 349.5h7M410.5 346v7M407 356.5h7M410.5 353v7M407 357.5h7M410.5 354v7M407 369.5h7M410.5 366v7M407 374.5h7M410.5 371v7M407 376.5h7M410.5 373v7M407 379.5h7M410.5 376v7M407 384.5h7M410.5 381v7M408 352.5h7M411.5 349v7M408 372.5h7M411.5 369v7M408 374.5h7M411.5 371v7M408 375.5h7M411.5 372v7M408 376.5h7M411.5 373v7M408 382.5h7M411.5 379v7M408 384.5h7M411.5 381v7M409 350.5h7M412.5 347v7M409 372.5h7M412.5 369v7M409 373.5h7M412.5 370v7M409 376.5h7M412.5 373v7M409 378.5h7M412.5 375v7M409 379.5h7M412.5 376v7M409 380.5h7M412.5 377v7M410 350.5h7M413.5 347v7M410 351.5h7M413.5 348v7M410 352.5h7M413.5 349v7M410 375.5h7M413.5 372v7M410 387.5h7M413.5 384v7M411 347.5h7M414.5 344v7M411 349.5h7M414.5 346v7M411 350.5h7M414.5 347v7M411 352.5h7M414.5 349v7M411 363.5h7M414.5 360v7M411 367.5h7M414.5 364v7M411 371.5h7M414.5 368v7M411 372.5h7M414.5 369v7M411 379.5h7M414.5 376v7M411 381.5h7M414.5 378v7M412 347.5h7M415.5 344v7M412 352.5h7M415.5 349v7M412 361.5h7M415.5 358v7M412 364.5h7M415.5 361v7M412 368.5h7M415.5 365v7M412 380.5h7M415.5 377v7M412 391.5h7M415.5 388v7M413 318.5h7M416.5 315v7M413 345.5h7M416.5 342v7M413 358.5h7M416.5 355v7M413 362.5h7M416.5 359v7M413 369.5h7M416.5 366v7M413 374.5h7M416.5 371v7M413 377.5h7M416.5 374v7M413 381.5h7M416.5 378v7M413 385.5h7M416.5 382v7M414 345.5h7M417.5 342v7M414 350.5h7M417.5 347v7M414 353.5h7M417.5 350v7M414 362.5h7M417.5 359v7M414 363.5h7M417.5 360v7M414 377.5h7M417.5 374v7M414 386.5h7M417.5 383v7M414 392.5h7M417.5 389v7M415 384.5h7M418.5 381v7M415 389.5h7M418.5 386v7M415 391.5h7M418.5 388v7M416 318.5h7M419.5 315v7M416 330.5h7M419.5 327v7M416 382.5h7M419.5 379v7M416 383.5h7M419.5 380v7M416 385.5h7M419.5 382v7M416 387.5h7M419.5 384v7M416 388.5h7M419.5 385v7M416 389.5h7M419.5 386v7M416 391.5h7M419.5 388v7M416 393.5h7M419.5 390v7M417 384.5h7M420.5 381v7M417 385.5h7M420.5 382v7M417 386.5h7M420.5 383v7M417 389.5h7M420.5 386v7M417 391.5h7M420.5 388v7M418 300.5h7M421.5 297v7M418 309.5h7M421.5 306v7M418 330.5h7M421.5 327v7M418 334.5h7M421.5 331v7M418 341.5h7M421.5 338v7M418 360.5h7M421.5 357v7M418 385.5h7M421.5 382v7M418 386.5h7M421.5 383v7M418 390.5h7M421.5 387v7M418 393.5h7M421.5 390v7M419 284.5h7M422.5 281v7M419 304.5h7M422.5 301v7M419 319.5h7M422.5 316v7M419 323.5h7M422.5 320v7M419 328.5h7M422.5 325v7M419 332.5h7M422.5 329v7M419 340.5h7M422.5 337v7M419 343.5h7M422.5 340v7M419 344.5h7M422.5 341v7M419 346.5h7M422.5 343v7M419 365.5h7M422.5 362v7M419 377.5h7M422.5 374v7M419 385.5h7M422.5 382v7M419 388.5h7M422.5 385v7M419 391.5h7M422.5 388v7M420 328.5h7M423.5 325v7M420 339.5h7M423.5 336v7M420 341.5h7M423.5 338v7M420 342.5h7M423.5 339v7M420 343.5h7M423.5 340v7M420 344.5h7M423.5 341v7M420 359.5h7M423.5 356v7M420 381.5h7M423.5 378v7M420 384.5h7M423.5 381v7M420 386.5h7M423.5 383v7M420 389.5h7M423.5 386v7M420 391.5h7M423.5 388v7M420 393.5h7M423.5 390v7M421 320.5h7M424.5 317v7M421 322.5h7M424.5 319v7M421 339.5h7M424.5 336v7M421 364.5h7M424.5 361v7M421 370.5h7M424.5 367v7M421 371.5h7M424.5 368v7M421 373.5h7M424.5 370v7M421 375.5h7M424.5 372v7M421 376.5h7M424.5 373v7M421 380.5h7M424.5 377v7M421 383.5h7M424.5 380v7M421 384.5h7M424.5 381v7M421 390.5h7M424.5 387v7M421 392.5h7M424.5 389v7M422 325.5h7M425.5 322v7M422 339.5h7M425.5 336v7M422 344.5h7M425.5 341v7M422 361.5h7M425.5 358v7M422 362.5h7M425.5 359v7M422 366.5h7M425.5 363v7M422 381.5h7M425.5 378v7M422 385.5h7M425.5 382v7M423 325.5h7M426.5 322v7M423 331.5h7M426.5 328v7M423 345.5h7M426.5 342v7M423 363.5h7M426.5 360v7M423 368.5h7M426.5 365v7M423 370.5h7M426.5 367v7M423 379.5h7M426.5 376v7M423 380.5h7M426.5 377v7M423 381.5h7M426.5 378v7M423 384.5h7M426.5 381v7M423 386.5h7M426.5 383v7M424 289.5h7M427.5 286v7M424 293.5h7M427.5 290v7M424 294.5h7M427.5 291v7M424 329.5h7M427.5 326v7M424 337.5h7M427.5 334v7M424 339.5h7M427.5 336v7M424 340.5h7M427.5 337v7M424 341.5h7M427.5 338v7M424 342.5h7M427.5 339v7M424 343.5h7M427.5 340v7M424 345.5h7M427.5 342v7M424 358.5h7M427.5 355v7M424 362.5h7M427.5 359v7M424 375.5h7M427.5 372v7M424 376.5h7M427.5 373v7M425 299.5h7M428.5 296v7M425 331.5h7M428.5 328v7M425 340.5h7M428.5 337v7M425 342.5h7M428.5 339v7M425 345.5h7M428.5 342v7M425 349.5h7M428.5 346v7M425 350.5h7M428.5 347v7M425 376.5h7M428.5 373v7M425 390.5h7M428.5 387v7M425 392.5h7M428.5 389v7M426 326.5h7M429.5 323v7M426 327.5h7M429.5 324v7M426 333.5h7M429.5 330v7M426 334.5h7M429.5 331v7M426 339.5h7M429.5 336v7M426 341.5h7M429.5 338v7M426 345.5h7M429.5 342v7M426 347.5h7M429.5 344v7M426 348.5h7M429.5 345v7M426 362.5h7M429.5 359v7M426 365.5h7M429.5 362v7M426 368.5h7M429.5 365v7M426 380.5h7M429.5 377v7M426 388.5h7M429.5 385v7M426 391.5h7M429.5 388v7M427 329.5h7M430.5 326v7M427 330.5h7M430.5 327v7M427 332.5h7M430.5 329v7M427 335.5h7M430.5 332v7M427 344.5h7M430.5 341v7M427 347.5h7M430.5 344v7M427 350.5h7M430.5 347v7M427 358.5h7M430.5 355v7M427 360.5h7M430.5 357v7M427 361.5h7M430.5 358v7M427 378.5h7M430.5 375v7M427 379.5h7M430.5 376v7M427 387.5h7M430.5 384v7M427 390.5h7M430.5 387v7M427 392.5h7M430.5 389v7M428 320.5h7M431.5 317v7M428 324.5h7M431.5 321v7M428 327.5h7M431.5 324v7M428 332.5h7M431.5 329v7M428 343.5h7M431.5 340v7M428 345.5h7M431.5 342v7M428 348.5h7M431.5 345v7M428 351.5h7M431.5 348v7M428 356.5h7M431.5 353v7M428 362.5h7M431.5 359v7M428 376.5h7M431.5 373v7M428 381.5h7M431.5 378v7M428 386.5h7M431.5 383v7M428 387.5h7M431.5 384v7M428 389.5h7M431.5 386v7M428 390.5h7M431.5 387v7M428 391.5h7M431.5 388v7M429 320.5h7M432.5 317v7M429 321.5h7M432.5 318v7M429 324.5h7M432.5 321v7M429 343.5h7M432.5 340v7M429 355.5h7M432.5 352v7M429 356.5h7M432.5 353v7M429 363.5h7M432.5 360v7M429 365.5h7M432.5 362v7M429 368.5h7M432.5 365v7M429 369.5h7M432.5 366v7M429 377.5h7M432.5 374v7M429 381.5h7M432.5 378v7M429 383.5h7M432.5 380v7M429 384.5h7M432.5 381v7M429 388.5h7M432.5 385v7M429 391.5h7M432.5 388v7M430 330.5h7M433.5 327v7M430 342.5h7M433.5 339v7M430 356.5h7M433.5 353v7M430 359.5h7M433.5 356v7M430 365.5h7M433.5 362v7M430 367.5h7M433.5 364v7M430 378.5h7M433.5 375v7M430 387.5h7M433.5 384v7M431 323.5h7M434.5 320v7M431 330.5h7M434.5 327v7M431 342.5h7M434.5 339v7M431 351.5h7M434.5 348v7M431 361.5h7M434.5 358v7M431 385.5h7M434.5 382v7M431 387.5h7M434.5 384v7M431 390.5h7M434.5 387v7M432 327.5h7M435.5 324v7M432 333.5h7M435.5 330v7M432 376.5h7M435.5 373v7M433 335.5h7M436.5 332v7M433 340.5h7M436.5 337v7M433 341.5h7M436.5 338v7M433 345.5h7M436.5 342v7M433 346.5h7M436.5 343v7M433 361.5h7M436.5 358v7M433 362.5h7M436.5 359v7M433 374.5h7M436.5 371v7M434 330.5h7M437.5 327v7M434 351.5h7M437.5 348v7M434 359.5h7M437.5 356v7M434 365.5h7M437.5 362v7M434 369.5h7M437.5 366v7M435 335.5h7M438.5 332v7M435 337.5h7M438.5 334v7M435 339.5h7M438.5 336v7M435 348.5h7M438.5 345v7M435 357.5h7M438.5 354v7M435 363.5h7M438.5 360v7M435 371.5h7M438.5 368v7M435 374.5h7M438.5 371v7M435 377.5h7M438.5 374v7M435 378.5h7M438.5 375v7M435 379.5h7M438.5 376v7M436 334.5h7M439.5 331v7M436 338.5h7M439.5 335v7M436 341.5h7M439.5 338v7M436 344.5h7M439.5 341v7M436 360.5h7M439.5 357v7M436 364.5h7M439.5 361v7M436 365.5h7M439.5 362v7M436 373.5h7M439.5 370v7M436 376.5h7M439.5 373v7M436 377.5h7M439.5 374v7M436 383.5h7M439.5 380v7M437 318.5h7M440.5 315v7M437 335.5h7M440.5 332v7M437 359.5h7M440.5 356v7M437 366.5h7M440.5 363v7M437 369.5h7M440.5 366v7M437 370.5h7M440.5 367v7M437 373.5h7M440.5 370v7M437 375.5h7M440.5 372v7M437 380.5h7M440.5 377v7M437 383.5h7M440.5 380v7M438 314.5h7M441.5 311v7M438 316.5h7M441.5 313v7M438 352.5h7M441.5 349v7M438 360.5h7M441.5 357v7M438 370.5h7M441.5 367v7M438 373.5h7M441.5 370v7M438 375.5h7M441.5 372v7M438 377.5h7M441.5 374v7M438 379.5h7M441.5 376v7M438 380.5h7M441.5 377v7M438 381.5h7M441.5 378v7M438 382.5h7M441.5 379v7M438 383.5h7M441.5 380v7M438 384.5h7M441.5 381v7M438 385.5h7M441.5 382v7M439 317.5h7M442.5 314v7M439 318.5h7M442.5 315v7M439 320.5h7M442.5 317v7M439 325.5h7M442.5 322v7M439 363.5h7M442.5 360v7M439 365.5h7M442.5 362v7M439 373.5h7M442.5 370v7M439 374.5h7M442.5 371v7M439 377.5h7M442.5 374v7M439 382.5h7M442.5 379v7M439 383.5h7M442.5 380v7M440 330.5h7M443.5 327v7M440 360.5h7M443.5 357v7M440 363.5h7M443.5 360v7M440 372.5h7M443.5 369v7M440 379.5h7M443.5 376v7M440 383.5h7M443.5 380v7M440 385.5h7M443.5 382v7M440 388.5h7M443.5 385v7M441 320.5h7M444.5 317v7M441 349.5h7M444.5 346v7M441 350.5h7M444.5 347v7M441 355.5h7M444.5 352v7M441 362.5h7M444.5 359v7M441 366.5h7M444.5 363v7M441 371.5h7M444.5 368v7M441 376.5h7M444.5 373v7M442 314.5h7M445.5 311v7M442 317.5h7M445.5 314v7M442 319.5h7M445.5 316v7M442 334.5h7M445.5 331v7M442 356.5h7M445.5 353v7M442 359.5h7M445.5 356v7M442 366.5h7M445.5 363v7M442 368.5h7M445.5 365v7M442 370.5h7M445.5 367v7M443 355.5h7M446.5 352v7M443 358.5h7M446.5 355v7M443 361.5h7M446.5 358v7M443 371.5h7M446.5 368v7M443 374.5h7M446.5 371v7M443 382.5h7M446.5 379v7M444 355.5h7M447.5 352v7M444 356.5h7M447.5 353v7M444 363.5h7M447.5 360v7M444 364.5h7M447.5 361v7M444 365.5h7M447.5 362v7M444 368.5h7M447.5 365v7M445 341.5h7M448.5 338v7M445 355.5h7M448.5 352v7M445 357.5h7M448.5 354v7M445 359.5h7M448.5 356v7M445 367.5h7M448.5 364v7M445 368.5h7M448.5 365v7M445 370.5h7M448.5 367v7M445 372.5h7M448.5 369v7M445 378.5h7M448.5 375v7M445 383.5h7M448.5 380v7M446 345.5h7M449.5 342v7M446 359.5h7M449.5 356v7M446 367.5h7M449.5 364v7M446 376.5h7M449.5 373v7M446 380.5h7M449.5 377v7M447 349.5h7M450.5 346v7M447 350.5h7M450.5 347v7M447 352.5h7M450.5 349v7M447 355.5h7M450.5 352v7M447 357.5h7M450.5 354v7M447 374.5h7M450.5 371v7M447 377.5h7M450.5 374v7M447 378.5h7M450.5 375v7M447 380.5h7M450.5 377v7M447 386.5h7M450.5 383v7M447 387.5h7M450.5 384v7M447 389.5h7M450.5 386v7M448 351.5h7M451.5 348v7M448 372.5h7M451.5 369v7M448 379.5h7M451.5 376v7M448 380.5h7M451.5 377v7M448 381.5h7M451.5 378v7M449 341.5h7M452.5 338v7M449 342.5h7M452.5 339v7M449 343.5h7M452.5 340v7M449 346.5h7M452.5 343v7M449 347.5h7M452.5 344v7M449 348.5h7M452.5 345v7M449 349.5h7M452.5 346v7M449 364.5h7M452.5 361v7M449 368.5h7M452.5 365v7M449 375.5h7M452.5 372v7M449 378.5h7M452.5 375v7M449 380.5h7M452.5 377v7M450 340.5h7M453.5 337v7M450 341.5h7M453.5 338v7M450 343.5h7M453.5 340v7M450 349.5h7M453.5 346v7M450 361.5h7M453.5 358v7M450 365.5h7M453.5 362v7M450 366.5h7M453.5 363v7M450 368.5h7M453.5 365v7M450 372.5h7M453.5 369v7M450 374.5h7M453.5 371v7M450 377.5h7M453.5 374v7M450 378.5h7M453.5 375v7M450 379.5h7M453.5 376v7M450 380.5h7M453.5 377v7M450 381.5h7M453.5 378v7M450 382.5h7M453.5 379v7M451 350.5h7M454.5 347v7M451 352.5h7M454.5 349v7M451 360.5h7M454.5 357v7M451 362.5h7M454.5 359v7M451 363.5h7M454.5 360v7M451 377.5h7M454.5 374v7M451 379.5h7M454.5 376v7M451 382.5h7M454.5 379v7M452 349.5h7M455.5 346v7M452 350.5h7M455.5 347v7M452 351.5h7M455.5 348v7M452 355.5h7M455.5 352v7M452 357.5h7M455.5 354v7M452 360.5h7M455.5 357v7M452 362.5h7M455.5 359v7M452 364.5h7M455.5 361v7M452 365.5h7M455.5 362v7M452 366.5h7M455.5 363v7M452 370.5h7M455.5 367v7M452 375.5h7M455.5 372v7M452 380.5h7M455.5 377v7M453 348.5h7M456.5 345v7M453 358.5h7M456.5 355v7M453 361.5h7M456.5 358v7M453 362.5h7M456.5 359v7M453 370.5h7M456.5 367v7M453 378.5h7M456.5 375v7M454 358.5h7M457.5 355v7M454 375.5h7M457.5 372v7M454 379.5h7M457.5 376v7M455 366.5h7M458.5 363v7M455 376.5h7M458.5 373v7M455 377.5h7M458.5 374v7M455 378.5h7M458.5 375v7M455 381.5h7M458.5 378v7M456 363.5h7M459.5 360v7M456 370.5h7M459.5 367v7M456 376.5h7M459.5 373v7M456 380.5h7M459.5 377v7M456 381.5h7M459.5 378v7M457 347.5h7M460.5 344v7M457 363.5h7M460.5 360v7M457 366.5h7M460.5 363v7M457 374.5h7M460.5 371v7M457 376.5h7M460.5 373v7M457 381.5h7M460.5 378v7M458 375.5h7M461.5 372v7M458 377.5h7M461.5 374v7M458 378.5h7M461.5 375v7M459 373.5h7M462.5 370v7M459 378.5h7M462.5 375v7M459 383.5h7M462.5 380v7M460 364.5h7M463.5 361v7M460 367.5h7M463.5 364v7M460 371.5h7M463.5 368v7M461 352.5h7M464.5 349v7M461 377.5h7M464.5 374v7M461 391.5h7M464.5 388v7M462 354.5h7M465.5 351v7M462 367.5h7M465.5 364v7M462 390.5h7M465.5 387v7M462 391.5h7M465.5 388v7M463 352.5h7M466.5 349v7M463 370.5h7M466.5 367v7M463 371.5h7M466.5 368v7M463 372.5h7M466.5 369v7M463 373.5h7M466.5 370v7M463 374.5h7M466.5 371v7M464 365.5h7M467.5 362v7M464 370.5h7M467.5 367v7M464 372.5h7M467.5 369v7M464 373.5h7M467.5 370v7M464 376.5h7M467.5 373v7M465 356.5h7M468.5 353v7M465 361.5h7M468.5 358v7M465 363.5h7M468.5 360v7M465 365.5h7M468.5 362v7M465 372.5h7M468.5 369v7M465 374.5h7M468.5 371v7M465 379.5h7M468.5 376v7M465 380.5h7M468.5 377v7M465 381.5h7M468.5 378v7M465 385.5h7M468.5 382v7M465 389.5h7M468.5 386v7M466 367.5h7M469.5 364v7M466 383.5h7M469.5 380v7M466 386.5h7M469.5 383v7M466 392.5h7M469.5 389v7M466 393.5h7M469.5 390v7M467 357.5h7M470.5 354v7M467 361.5h7M470.5 358v7M467 363.5h7M470.5 360v7M467 365.5h7M470.5 362v7M467 367.5h7M470.5 364v7M467 383.5h7M470.5 380v7M467 384.5h7M470.5 381v7M467 385.5h7M470.5 382v7M467 386.5h7M470.5 383v7M467 388.5h7M470.5 385v7M468 355.5h7M471.5 352v7M468 359.5h7M471.5 356v7M468 362.5h7M471.5 359v7M468 380.5h7M471.5 377v7M468 384.5h7M471.5 381v7M468 390.5h7M471.5 387v7M468 394.5h7M471.5 391v7M469 355.5h7M472.5 352v7M469 357.5h7M472.5 354v7M469 370.5h7M472.5 367v7M469 373.5h7M472.5 370v7M469 376.5h7M472.5 373v7M469 388.5h7M472.5 385v7M469 393.5h7M472.5 390v7M470 354.5h7M473.5 351v7M470 357.5h7M473.5 354v7M470 381.5h7M473.5 378v7M470 389.5h7M473.5 386v7M471 375.5h7M474.5 372v7M471 378.5h7M474.5 375v7M471 379.5h7M474.5 376v7M471 389.5h7M474.5 386v7M472 379.5h7M475.5 376v7M472 380.5h7M475.5 377v7M472 388.5h7M475.5 385v7M473 283.5h7M476.5 280v7M473 388.5h7M476.5 385v7M473 389.5h7M476.5 386v7M474 248.5h7M477.5 245v7M474 253.5h7M477.5 250v7M474 271.5h7M477.5 268v7M474 317.5h7M477.5 314v7M474 320.5h7M477.5 317v7M474 334.5h7M477.5 331v7M474 339.5h7M477.5 336v7M474 361.5h7M477.5 358v7M474 363.5h7M477.5 360v7M474 377.5h7M477.5 374v7M474 380.5h7M477.5 377v7M474 387.5h7M477.5 384v7M475 243.5h7M478.5 240v7M475 301.5h7M478.5 298v7M475 303.5h7M478.5 300v7M475 322.5h7M478.5 319v7M475 335.5h7M478.5 332v7M475 336.5h7M478.5 333v7M475 337.5h7M478.5 334v7M475 340.5h7M478.5 337v7M475 354.5h7M478.5 351v7M475 381.5h7M478.5 378v7M475 383.5h7M478.5 380v7M475 387.5h7M478.5 384v7M476 245.5h7M479.5 242v7M476 256.5h7M479.5 253v7M476 343.5h7M479.5 340v7M476 352.5h7M479.5 349v7M476 382.5h7M479.5 379v7M476 383.5h7M479.5 380v7M477 240.5h7M480.5 237v7M477 243.5h7M480.5 240v7M477 256.5h7M480.5 253v7M477 271.5h7M480.5 268v7M477 302.5h7M480.5 299v7M477 337.5h7M480.5 334v7M477 340.5h7M480.5 337v7M477 352.5h7M480.5 349v7M477 364.5h7M480.5 361v7M477 375.5h7M480.5 372v7M477 384.5h7M480.5 381v7M478 304.5h7M481.5 301v7M478 339.5h7M481.5 336v7M478 344.5h7M481.5 341v7M478 347.5h7M481.5 344v7M478 351.5h7M481.5 348v7M478 353.5h7M481.5 350v7M478 367.5h7M481.5 364v7M478 379.5h7M481.5 376v7M478 381.5h7M481.5 378v7M479 305.5h7M482.5 302v7M479 315.5h7M482.5 312v7M479 346.5h7M482.5 343v7M479 355.5h7M482.5 352v7M479 365.5h7M482.5 362v7M479 372.5h7M482.5 369v7M480 331.5h7M483.5 328v7M480 356.5h7M483.5 353v7M480 361.5h7M483.5 358v7M480 369.5h7M483.5 366v7M480 372.5h7M483.5 369v7M480 375.5h7M483.5 372v7M480 377.5h7M483.5 374v7M480 379.5h7M483.5 376v7M480 383.5h7M483.5 380v7M481 322.5h7M484.5 319v7M481 328.5h7M484.5 325v7M481 347.5h7M484.5 344v7M481 349.5h7M484.5 346v7M481 353.5h7M484.5 350v7M481 354.5h7M484.5 351v7M481 359.5h7M484.5 356v7M481 361.5h7M484.5 358v7M481 362.5h7M484.5 359v7M481 370.5h7M484.5 367v7M481 373.5h7M484.5 370v7M481 387.5h7M484.5 384v7M482 327.5h7M485.5 324v7M482 349.5h7M485.5 346v7M482 359.5h7M485.5 356v7M482 362.5h7M485.5 359v7M482 363.5h7M485.5 360v7M482 365.5h7M485.5 362v7M482 367.5h7M485.5 364v7M482 368.5h7M485.5 365v7M482 370.5h7M485.5 367v7M482 371.5h7M485.5 368v7M482 375.5h7M485.5 372v7M482 376.5h7M485.5 373v7M482 385.5h7M485.5 382v7M483 254.5h7M486.5 251v7M483 259.5h7M486.5 256v7M483 291.5h7M486.5 288v7M483 353.5h7M486.5 350v7M483 355.5h7M486.5 352v7M483 371.5h7M486.5 368v7M483 372.5h7M486.5 369v7M483 373.5h7M486.5 370v7M483 374.5h7M486.5 371v7M483 375.5h7M486.5 372v7M483 376.5h7M486.5 373v7M483 377.5h7M486.5 374v7M483 383.5h7M486.5 380v7M484 259.5h7M487.5 256v7M484 271.5h7M487.5 268v7M484 357.5h7M487.5 354v7M484 363.5h7M487.5 360v7M484 367.5h7M487.5 364v7M484 370.5h7M487.5 367v7M484 381.5h7M487.5 378v7M484 388.5h7M487.5 385v7M485 278.5h7M488.5 275v7M485 366.5h7M488.5 363v7M485 368.5h7M488.5 365v7M485 370.5h7M488.5 367v7M485 372.5h7M488.5 369v7M485 386.5h7M488.5 383v7M485 388.5h7M488.5 385v7M486 301.5h7M489.5 298v7M486 309.5h7M489.5 306v7M486 357.5h7M489.5 354v7M486 359.5h7M489.5 356v7M486 366.5h7M489.5 363v7M486 369.5h7M489.5 366v7M486 370.5h7M489.5 367v7M486 371.5h7M489.5 368v7M486 373.5h7M489.5 370v7M486 378.5h7M489.5 375v7M486 380.5h7M489.5 377v7M486 381.5h7M489.5 378v7M486 382.5h7M489.5 379v7M486 385.5h7M489.5 382v7M486 387.5h7M489.5 384v7M486 388.5h7M489.5 385v7M486 390.5h7M489.5 387v7M487 347.5h7M490.5 344v7M487 356.5h7M490.5 353v7M487 370.5h7M490.5 367v7M487 374.5h7M490.5 371v7M487 376.5h7M490.5 373v7M487 378.5h7M490.5 375v7M487 385.5h7M490.5 382v7M487 389.5h7M490.5 386v7M488 265.5h7M491.5 262v7M488 272.5h7M491.5 269v7M488 295.5h7M491.5 292v7M488 300.5h7M491.5 297v7M488 333.5h7M491.5 330v7M488 334.5h7M491.5 331v7M488 342.5h7M491.5 339v7M488 356.5h7M491.5 353v7M488 357.5h7M491.5 354v7M488 362.5h7M491.5 359v7M488 365.5h7M491.5 362v7M488 366.5h7M491.5 363v7M488 371.5h7M491.5 368v7M488 373.5h7M491.5 370v7M488 374.5h7M491.5 371v7M488 377.5h7M491.5 374v7M488 378.5h7M491.5 375v7M488 380.5h7M491.5 377v7M488 381.5h7M491.5 378v7M488 385.5h7M491.5 382v7M488 386.5h7M491.5 383v7M488 390.5h7M491.5 387v7M489 255.5h7M492.5 252v7M489 256.5h7M492.5 253v7M489 268.5h7M492.5 265v7M489 336.5h7M492.5 333v7M489 337.5h7M492.5 334v7M489 364.5h7M492.5 361v7M489 366.5h7M492.5 363v7M489 379.5h7M492.5 376v7M489 389.5h7M492.5 386v7M490 254.5h7M493.5 251v7M490 264.5h7M493.5 261v7M490 302.5h7M493.5 299v7M490 308.5h7M493.5 305v7M490 333.5h7M493.5 330v7M490 336.5h7M493.5 333v7M490 360.5h7M493.5 357v7M490 364.5h7M493.5 361v7M490 367.5h7M493.5 364v7M490 370.5h7M493.5 367v7M490 379.5h7M493.5 376v7M490 381.5h7M493.5 378v7M491 327.5h7M494.5 324v7M491 376.5h7M494.5 373v7M491 379.5h7M494.5 376v7M491 382.5h7M494.5 379v7M492 273.5h7M495.5 270v7M492 303.5h7M495.5 300v7M492 305.5h7M495.5 302v7M492 319.5h7M495.5 316v7M492 324.5h7M495.5 321v7M492 336.5h7M495.5 333v7M492 339.5h7M495.5 336v7M492 341.5h7M495.5 338v7M492 358.5h7M495.5 355v7M492 360.5h7M495.5 357v7M492 362.5h7M495.5 359v7M492 364.5h7M495.5 361v7M492 367.5h7M495.5 364v7M492 371.5h7M495.5 368v7M492 385.5h7M495.5 382v7M492 405.5h7M495.5 402v7M493 301.5h7M496.5 298v7M493 334.5h7M496.5 331v7M493 338.5h7M496.5 335v7M493 342.5h7M496.5 339v7M493 364.5h7M496.5 361v7M493 365.5h7M496.5 362v7M493 369.5h7M496.5 366v7M493 382.5h7M496.5 379v7M493 393.5h7M496.5 390v7M494 337.5h7M497.5 334v7M494 357.5h7M497.5 354v7M494 362.5h7M497.5 359v7M494 383.5h7M497.5 380v7M494 384.5h7M497.5 381v7M494 396.5h7M497.5 393v7M494 397.5h7M497.5 394v7M494 398.5h7M497.5 395v7M495 310.5h7M498.5 307v7M495 333.5h7M498.5 330v7M495 339.5h7M498.5 336v7M495 340.5h7M498.5 337v7M495 345.5h7M498.5 342v7M495 346.5h7M498.5 343v7M495 347.5h7M498.5 344v7M495 357.5h7M498.5 354v7M495 358.5h7M498.5 355v7M495 359.5h7M498.5 356v7M495 360.5h7M498.5 357v7M495 362.5h7M498.5 359v7M495 366.5h7M498.5 363v7M495 367.5h7M498.5 364v7M495 373.5h7M498.5 370v7M495 375.5h7M498.5 372v7M495 377.5h7M498.5 374v7M495 385.5h7M498.5 382v7M495 391.5h7M498.5 388v7M495 395.5h7M498.5 392v7M495 396.5h7M498.5 393v7M495 397.5h7M498.5 394v7M495 399.5h7M498.5 396v7M495 401.5h7M498.5 398v7M495 402.5h7M498.5 399v7M496 327.5h7M499.5 324v7M496 340.5h7M499.5 337v7M496 347.5h7M499.5 344v7M496 357.5h7M499.5 354v7M496 359.5h7M499.5 356v7M496 362.5h7M499.5 359v7M496 373.5h7M499.5 370v7M496 377.5h7M499.5 374v7M496 378.5h7M499.5 375v7M496 379.5h7M499.5 376v7M496 391.5h7M499.5 388v7M496 401.5h7M499.5 398v7M497 341.5h7M500.5 338v7M497 352.5h7M500.5 349v7M497 357.5h7M500.5 354v7M497 362.5h7M500.5 359v7M497 368.5h7M500.5 365v7M497 369.5h7M500.5 366v7M497 370.5h7M500.5 367v7M497 372.5h7M500.5 369v7M497 378.5h7M500.5 375v7M497 386.5h7M500.5 383v7M497 388.5h7M500.5 385v7M497 389.5h7M500.5 386v7M497 400.5h7M500.5 397v7M498 244.5h7M501.5 241v7M498 252.5h7M501.5 249v7M498 300.5h7M501.5 297v7M498 345.5h7M501.5 342v7M498 349.5h7M501.5 346v7M498 352.5h7M501.5 349v7M498 353.5h7M501.5 350v7M498 356.5h7M501.5 353v7M498 358.5h7M501.5 355v7M498 363.5h7M501.5 360v7M498 373.5h7M501.5 370v7M498 374.5h7M501.5 371v7M498 378.5h7M501.5 375v7M498 382.5h7M501.5 379v7M498 386.5h7M501.5 383v7M498 393.5h7M501.5 390v7M499 235.5h7M502.5 232v7M499 279.5h7M502.5 276v7M499 287.5h7M502.5 284v7M499 348.5h7M502.5 345v7M499 351.5h7M502.5 348v7M499 373.5h7M502.5 370v7M499 374.5h7M502.5 371v7M499 375.5h7M502.5 372v7M499 386.5h7M502.5 383v7M499 392.5h7M502.5 389v7M499 400.5h7M502.5 397v7M500 86.5h7M503.5 83v7M500 148.5h7M503.5 145v7M500 213.5h7M503.5 210v7M500 226.5h7M503.5 223v7M500 233.5h7M503.5 230v7M500 236.5h7M503.5 233v7M500 248.5h7M503.5 245v7M500 253.5h7M503.5 250v7M500 255.5h7M503.5 252v7M500 283.5h7M503.5 280v7M500 286.5h7M503.5 283v7M500 344.5h7M503.5 341v7M500 358.5h7M503.5 355v7M500 361.5h7M503.5 358v7M500 370.5h7M503.5 367v7M500 371.5h7M503.5 368v7M500 374.5h7M503.5 371v7M500 376.5h7M503.5 373v7M500 377.5h7M503.5 374v7M500 400.5h7M503.5 397v7M500 405.5h7M503.5 402v7M501 180.5h7M504.5 177v7M501 207.5h7M504.5 204v7M501 211.5h7M504.5 208v7M501 215.5h7M504.5 212v7M501 216.5h7M504.5 213v7M501 219.5h7M504.5 216v7M501 280.5h7M504.5 277v7M501 339.5h7M504.5 336v7M501 348.5h7M504.5 345v7M501 350.5h7M504.5 347v7M501 358.5h7M504.5 355v7M501 369.5h7M504.5 366v7M501 372.5h7M504.5 369v7M501 373.5h7M504.5 370v7M501 386.5h7M504.5 383v7M501 391.5h7M504.5 388v7M501 398.5h7M504.5 395v7M501 401.5h7M504.5 398v7M502 202.5h7M505.5 199v7M502 206.5h7M505.5 203v7M502 251.5h7M505.5 248v7M502 258.5h7M505.5 255v7M502 263.5h7M505.5 260v7M502 265.5h7M505.5 262v7M502 267.5h7M505.5 264v7M502 270.5h7M505.5 267v7M502 317.5h7M505.5 314v7M502 356.5h7M505.5 353v7M502 363.5h7M505.5 360v7M502 373.5h7M505.5 370v7M502 374.5h7M505.5 371v7M502 380.5h7M505.5 377v7M502 382.5h7M505.5 379v7M502 386.5h7M505.5 383v7M502 389.5h7M505.5 386v7M502 390.5h7M505.5 387v7M503 201.5h7M506.5 198v7M503 261.5h7M506.5 258v7M503 269.5h7M506.5 266v7M503 286.5h7M506.5 283v7M503 349.5h7M506.5 346v7M503 360.5h7M506.5 357v7M503 363.5h7M506.5 360v7M503 365.5h7M506.5 362v7M503 367.5h7M506.5 364v7M503 368.5h7M506.5 365v7M503 370.5h7M506.5 367v7M503 371.5h7M506.5 368v7M503 372.5h7M506.5 369v7M503 376.5h7M506.5 373v7M503 377.5h7M506.5 374v7M503 384.5h7M506.5 381v7M503 389.5h7M506.5 386v7M503 402.5h7M506.5 399v7M504 295.5h7M507.5 292v7M504 303.5h7M507.5 300v7M504 306.5h7M507.5 303v7M504 314.5h7M507.5 311v7M504 335.5h7M507.5 332v7M504 340.5h7M507.5 337v7M504 341.5h7M507.5 338v7M504 353.5h7M507.5 350v7M504 376.5h7M507.5 373v7M504 378.5h7M507.5 375v7M504 382.5h7M507.5 379v7M504 389.5h7M507.5 386v7M504 390.5h7M507.5 387v7M504 392.5h7M507.5 389v7M504 405.5h7M507.5 402v7M505 316.5h7M508.5 313v7M505 317.5h7M508.5 314v7M505 334.5h7M508.5 331v7M505 359.5h7M508.5 356v7M505 360.5h7M508.5 357v7M505 374.5h7M508.5 371v7M505 375.5h7M508.5 372v7M505 377.5h7M508.5 374v7M505 386.5h7M508.5 383v7M505 389.5h7M508.5 386v7M505 392.5h7M508.5 389v7M505 397.5h7M508.5 394v7M505 398.5h7M508.5 395v7M505 400.5h7M508.5 397v7M505 401.5h7M508.5 398v7M505 406.5h7M508.5 403v7M506 330.5h7M509.5 327v7M506 356.5h7M509.5 353v7M506 360.5h7M509.5 357v7M506 377.5h7M509.5 374v7M506 378.5h7M509.5 375v7M506 379.5h7M509.5 376v7M506 382.5h7M509.5 379v7M506 388.5h7M509.5 385v7M506 389.5h7M509.5 386v7M506 393.5h7M509.5 390v7M506 396.5h7M509.5 393v7M506 400.5h7M509.5 397v7M507 333.5h7M510.5 330v7M507 355.5h7M510.5 352v7M507 360.5h7M510.5 357v7M507 361.5h7M510.5 358v7M507 367.5h7M510.5 364v7M507 373.5h7M510.5 370v7M507 378.5h7M510.5 375v7M507 380.5h7M510.5 377v7M507 385.5h7M510.5 382v7M507 390.5h7M510.5 387v7M507 403.5h7M510.5 400v7M507 408.5h7M510.5 405v7M508 345.5h7M511.5 342v7M508 367.5h7M511.5 364v7M508 370.5h7M511.5 367v7M508 380.5h7M511.5 377v7M508 381.5h7M511.5 378v7M508 385.5h7M511.5 382v7M508 390.5h7M511.5 387v7M508 391.5h7M511.5 388v7M509 331.5h7M512.5 328v7M509 346.5h7M512.5 343v7M509 366.5h7M512.5 363v7M509 374.5h7M512.5 371v7M509 379.5h7M512.5 376v7M510 359.5h7M513.5 356v7M510 360.5h7M513.5 357v7M510 364.5h7M513.5 361v7M510 367.5h7M513.5 364v7M511 344.5h7M514.5 341v7M511 347.5h7M514.5 344v7M511 357.5h7M514.5 354v7M512 343.5h7M515.5 340v7M512 361.5h7M515.5 358v7M512 363.5h7M515.5 360v7M513 346.5h7M516.5 343v7M513 358.5h7M516.5 355v7M513 361.5h7M516.5 358v7M513 377.5h7M516.5 374v7M513 378.5h7M516.5 375v7M513 381.5h7M516.5 378v7M513 387.5h7M516.5 384v7M514 372.5h7M517.5 369v7M514 376.5h7M517.5 373v7M514 380.5h7M517.5 377v7M514 383.5h7M517.5 380v7M515 357.5h7M518.5 354v7M515 361.5h7M518.5 358v7M515 380.5h7M518.5 377v7M515 383.5h7M518.5 380v7M515 385.5h7M518.5 382v7M516 361.5h7M519.5 358v7M516 362.5h7M519.5 359v7M516 374.5h7M519.5 371v7M516 380.5h7M519.5 377v7M517 363.5h7M520.5 360v7M517 365.5h7M520.5 362v7M517 366.5h7M520.5 363v7M517 367.5h7M520.5 364v7M517 373.5h7M520.5 370v7M518 358.5h7M521.5 355v7M519 341.5h7M522.5 338v7M519 344.5h7M522.5 341v7M519 356.5h7M522.5 353v7M519 368.5h7M522.5 365v7M519 377.5h7M522.5 374v7M519 384.5h7M522.5 381v7M520 340.5h7M523.5 337v7M520 346.5h7M523.5 343v7M520 354.5h7M523.5 351v7M520 362.5h7M523.5 359v7M520 364.5h7M523.5 361v7M520 376.5h7M523.5 373v7M520 387.5h7M523.5 384v7M521 348.5h7M524.5 345v7M521 357.5h7M524.5 354v7M521 360.5h7M524.5 357v7M521 364.5h7M524.5 361v7M521 376.5h7M524.5 373v7M521 377.5h7M524.5 374v7M521 379.5h7M524.5 376v7M521 380.5h7M524.5 377v7M521 382.5h7M524.5 379v7M521 383.5h7M524.5 380v7M521 384.5h7M524.5 381v7M522 320.5h7M525.5 317v7M522 321.5h7M525.5 318v7M522 356.5h7M525.5 353v7M522 367.5h7M525.5 364v7M522 371.5h7M525.5 368v7M522 374.5h7M525.5 371v7M522 376.5h7M525.5 373v7M522 378.5h7M525.5 375v7M523 308.5h7M526.5 305v7M523 322.5h7M526.5 319v7M523 323.5h7M526.5 320v7M523 370.5h7M526.5 367v7M523 372.5h7M526.5 369v7M523 373.5h7M526.5 370v7M523 375.5h7M526.5 372v7M523 377.5h7M526.5 374v7M523 378.5h7M526.5 375v7M523 383.5h7M526.5 380v7M524 330.5h7M527.5 327v7M524 370.5h7M527.5 367v7M524 379.5h7M527.5 376v7M524 382.5h7M527.5 379v7M525 329.5h7M528.5 326v7M525 362.5h7M528.5 359v7M525 363.5h7M528.5 360v7M525 364.5h7M528.5 361v7M525 366.5h7M528.5 363v7M525 369.5h7M528.5 366v7M525 378.5h7M528.5 375v7M525 381.5h7M528.5 378v7M525 385.5h7M528.5 382v7M526 320.5h7M529.5 317v7M526 330.5h7M529.5 327v7M526 331.5h7M529.5 328v7M526 342.5h7M529.5 339v7M526 367.5h7M529.5 364v7M526 384.5h7M529.5 381v7M527 313.5h7M530.5 310v7M527 320.5h7M530.5 317v7M527 321.5h7M530.5 318v7M527 333.5h7M530.5 330v7M527 338.5h7M530.5 335v7M527 352.5h7M530.5 349v7M527 368.5h7M530.5 365v7M527 369.5h7M530.5 366v7M527 380.5h7M530.5 377v7M528 332.5h7M531.5 329v7M528 336.5h7M531.5 333v7M528 347.5h7M531.5 344v7M528 348.5h7M531.5 345v7M528 353.5h7M531.5 350v7M528 354.5h7M531.5 351v7M528 372.5h7M531.5 369v7M528 377.5h7M531.5 374v7M528 379.5h7M531.5 376v7M528 381.5h7M531.5 378v7M528 382.5h7M531.5 379v7M528 384.5h7M531.5 381v7M529 329.5h7M532.5 326v7M529 352.5h7M532.5 349v7M529 356.5h7M532.5 353v7M529 360.5h7M532.5 357v7M529 365.5h7M532.5 362v7M529 368.5h7M532.5 365v7M529 371.5h7M532.5 368v7M529 373.5h7M532.5 370v7M529 377.5h7M532.5 374v7M529 383.5h7M532.5 380v7M530 339.5h7M533.5 336v7M530 359.5h7M533.5 356v7M530 363.5h7M533.5 360v7M530 365.5h7M533.5 362v7M530 367.5h7M533.5 364v7M530 369.5h7M533.5 366v7M530 373.5h7M533.5 370v7M530 374.5h7M533.5 371v7M530 378.5h7M533.5 375v7M530 387.5h7M533.5 384v7M531 326.5h7M534.5 323v7M531 328.5h7M534.5 325v7M531 355.5h7M534.5 352v7M531 357.5h7M534.5 354v7M531 359.5h7M534.5 356v7M531 368.5h7M534.5 365v7M531 370.5h7M534.5 367v7M531 372.5h7M534.5 369v7M531 376.5h7M534.5 373v7M531 377.5h7M534.5 374v7M531 379.5h7M534.5 376v7M532 317.5h7M535.5 314v7M532 318.5h7M535.5 315v7M532 321.5h7M535.5 318v7M532 327.5h7M535.5 324v7M532 336.5h7M535.5 333v7M532 352.5h7M535.5 349v7M532 353.5h7M535.5 350v7M532 356.5h7M535.5 353v7M532 361.5h7M535.5 358v7M532 376.5h7M535.5 373v7M532 381.5h7M535.5 378v7M533 311.5h7M536.5 308v7M533 313.5h7M536.5 310v7M533 319.5h7M536.5 316v7M533 322.5h7M536.5 319v7M533 353.5h7M536.5 350v7M533 360.5h7M536.5 357v7M533 367.5h7M536.5 364v7M533 370.5h7M536.5 367v7M533 371.5h7M536.5 368v7M533 375.5h7M536.5 372v7M533 376.5h7M536.5 373v7M533 377.5h7M536.5 374v7M533 382.5h7M536.5 379v7M534 314.5h7M537.5 311v7M534 323.5h7M537.5 320v7M534 373.5h7M537.5 370v7M534 377.5h7M537.5 374v7M534 381.5h7M537.5 378v7M535 348.5h7M538.5 345v7M535 350.5h7M538.5 347v7M535 352.5h7M538.5 349v7M535 353.5h7M538.5 350v7M535 361.5h7M538.5 358v7M535 363.5h7M538.5 360v7M535 364.5h7M538.5 361v7M535 367.5h7M538.5 364v7M535 373.5h7M538.5 370v7M535 377.5h7M538.5 374v7M535 379.5h7M538.5 376v7M535 380.5h7M538.5 377v7M536 329.5h7M539.5 326v7M536 348.5h7M539.5 345v7M536 351.5h7M539.5 348v7M536 353.5h7M539.5 350v7M536 360.5h7M539.5 357v7M536 364.5h7M539.5 361v7M536 366.5h7M539.5 363v7M536 376.5h7M539.5 373v7M536 377.5h7M539.5 374v7M536 378.5h7M539.5 375v7M536 379.5h7M539.5 376v7M537 202.5h7M540.5 199v7M537 323.5h7M540.5 320v7M537 324.5h7M540.5 321v7M537 330.5h7M540.5 327v7M537 349.5h7M540.5 346v7M537 353.5h7M540.5 350v7M537 357.5h7M540.5 354v7M537 363.5h7M540.5 360v7M537 364.5h7M540.5 361v7M537 371.5h7M540.5 368v7M537 372.5h7M540.5 369v7M537 377.5h7M540.5 374v7M537 382.5h7M540.5 379v7M537 391.5h7M540.5 388v7M538 203.5h7M541.5 200v7M538 207.5h7M541.5 204v7M538 314.5h7M541.5 311v7M538 323.5h7M541.5 320v7M538 334.5h7M541.5 331v7M538 342.5h7M541.5 339v7M538 347.5h7M541.5 344v7M538 350.5h7M541.5 347v7M538 352.5h7M541.5 349v7M538 360.5h7M541.5 357v7M538 362.5h7M541.5 359v7M538 366.5h7M541.5 363v7M538 370.5h7M541.5 367v7M538 374.5h7M541.5 371v7M538 377.5h7M541.5 374v7M538 378.5h7M541.5 375v7M538 379.5h7M541.5 376v7M538 384.5h7M541.5 381v7M538 385.5h7M541.5 382v7M539 219.5h7M542.5 216v7M539 226.5h7M542.5 223v7M539 246.5h7M542.5 243v7M539 317.5h7M542.5 314v7M539 321.5h7M542.5 318v7M539 324.5h7M542.5 321v7M539 334.5h7M542.5 331v7M539 335.5h7M542.5 332v7M539 349.5h7M542.5 346v7M539 350.5h7M542.5 347v7M539 355.5h7M542.5 352v7M539 367.5h7M542.5 364v7M539 376.5h7M542.5 373v7M539 377.5h7M542.5 374v7M539 386.5h7M542.5 383v7M540 238.5h7M543.5 235v7M540 243.5h7M543.5 240v7M540 244.5h7M543.5 241v7M540 313.5h7M543.5 310v7M540 314.5h7M543.5 311v7M540 317.5h7M543.5 314v7M540 321.5h7M543.5 318v7M540 336.5h7M543.5 333v7M540 351.5h7M543.5 348v7M540 357.5h7M543.5 354v7M540 368.5h7M543.5 365v7M540 370.5h7M543.5 367v7M540 372.5h7M543.5 369v7M540 373.5h7M543.5 370v7M540 384.5h7M543.5 381v7M541 308.5h7M544.5 305v7M541 335.5h7M544.5 332v7M541 338.5h7M544.5 335v7M541 355.5h7M544.5 352v7M541 370.5h7M544.5 367v7M542 334.5h7M545.5 331v7M542 356.5h7M545.5 353v7M542 360.5h7M545.5 357v7M542 374.5h7M545.5 371v7M542 379.5h7M545.5 376v7M543 320.5h7M546.5 317v7M543 378.5h7M546.5 375v7M544 331.5h7M547.5 328v7M544 358.5h7M547.5 355v7M544 359.5h7M547.5 356v7M544 378.5h7M547.5 375v7M545 314.5h7M548.5 311v7M545 331.5h7M548.5 328v7M545 334.5h7M548.5 331v7M545 345.5h7M548.5 342v7M546 343.5h7M549.5 340v7M547 342.5h7M550.5 339v7M547 346.5h7M550.5 343v7M547 354.5h7M550.5 351v7M547 355.5h7M550.5 352v7M547 377.5h7M550.5 374v7M548 346.5h7M551.5 343v7M548 349.5h7M551.5 346v7M548 354.5h7M551.5 351v7M548 360.5h7M551.5 357v7M548 361.5h7M551.5 358v7M548 364.5h7M551.5 361v7M548 371.5h7M551.5 368v7M548 377.5h7M551.5 374v7M548 378.5h7M551.5 375v7M548 379.5h7M551.5 376v7M549 233.5h7M552.5 230v7M549 283.5h7M552.5 280v7M549 347.5h7M552.5 344v7M549 349.5h7M552.5 346v7M549 351.5h7M552.5 348v7M549 352.5h7M552.5 349v7M549 353.5h7M552.5 350v7M549 360.5h7M552.5 357v7M549 363.5h7M552.5 360v7M549 375.5h7M552.5 372v7M549 376.5h7M552.5 373v7M549 415.5h7M552.5 412v7M550 310.5h7M553.5 307v7M550 314.5h7M553.5 311v7M550 346.5h7M553.5 343v7M550 348.5h7M553.5 345v7M550 354.5h7M553.5 351v7M550 364.5h7M553.5 361v7M550 380.5h7M553.5 377v7M550 381.5h7M553.5 378v7M550 386.5h7M553.5 383v7M550 390.5h7M553.5 387v7M550 411.5h7M553.5 408v7M550 412.5h7M553.5 409v7M550 415.5h7M553.5 412v7M551 381.5h7M554.5 378v7M551 387.5h7M554.5 384v7M551 397.5h7M554.5 394v7M551 411.5h7M554.5 408v7M551 413.5h7M554.5 410v7M552 369.5h7M555.5 366v7M552 370.5h7M555.5 367v7M552 373.5h7M555.5 370v7M552 381.5h7M555.5 378v7M552 384.5h7M555.5 381v7M552 387.5h7M555.5 384v7M552 410.5h7M555.5 407v7M552 414.5h7M555.5 411v7M553 381.5h7M556.5 378v7M553 383.5h7M556.5 380v7M553 399.5h7M556.5 396v7M553 413.5h7M556.5 410v7M554 362.5h7M557.5 359v7M554 365.5h7M557.5 362v7M554 381.5h7M557.5 378v7M554 385.5h7M557.5 382v7M554 388.5h7M557.5 385v7M555 379.5h7M558.5 376v7M555 389.5h7M558.5 386v7M555 409.5h7M558.5 406v7" stroke="#f00" stroke-width="1" fill="none" shape-rendering="crispEdges"/>
<g stroke="#000" stroke-width="1" fill="none" shape-rendering="crispEdges">
<rect x="84.5" y="57.5" width="525" height="362"/>
</g>
<text x="343.5" y="33" text-anchor="middle">Day 009 of 2023, Rate Of TEC Index for receiver sg27</text>
<text x="344.5" y="470.5" text-anchor="middle">GPS time / hours</text>
<text transform="translate(19,239) rotate(-90)" text-anchor="middle">ROTI / TECUs</text>
<text x="84.5" y="443" text-anchor="middle">0</text><text x="172.5" y="443" text-anchor="middle">2</text><text x="259.5" y="443" text-anchor="middle">4</text><text x="347.5" y="443" text-anchor="middle">6</text><text x="434.5" y="443" text-anchor="middle">8</text><text x="522.5" y="443" text-anchor="middle">10</text><text x="609.5" y="443" text-anchor="middle">12</text>
<text x="70" y="424" text-anchor="end">0</text><text x="70" y="364" text-anchor="end">0.1</text><text x="70" y="303" text-anchor="end">0.2</text><text x="70" y="243" text-anchor="end">0.3</text><text x="70" y="183" text-anchor="end">0.4</text><text x="70" y="122" text-anchor="end">0.5</text><text x="70" y="62" text-anchor="end">0.6</text>
</svg>
</body></html>
